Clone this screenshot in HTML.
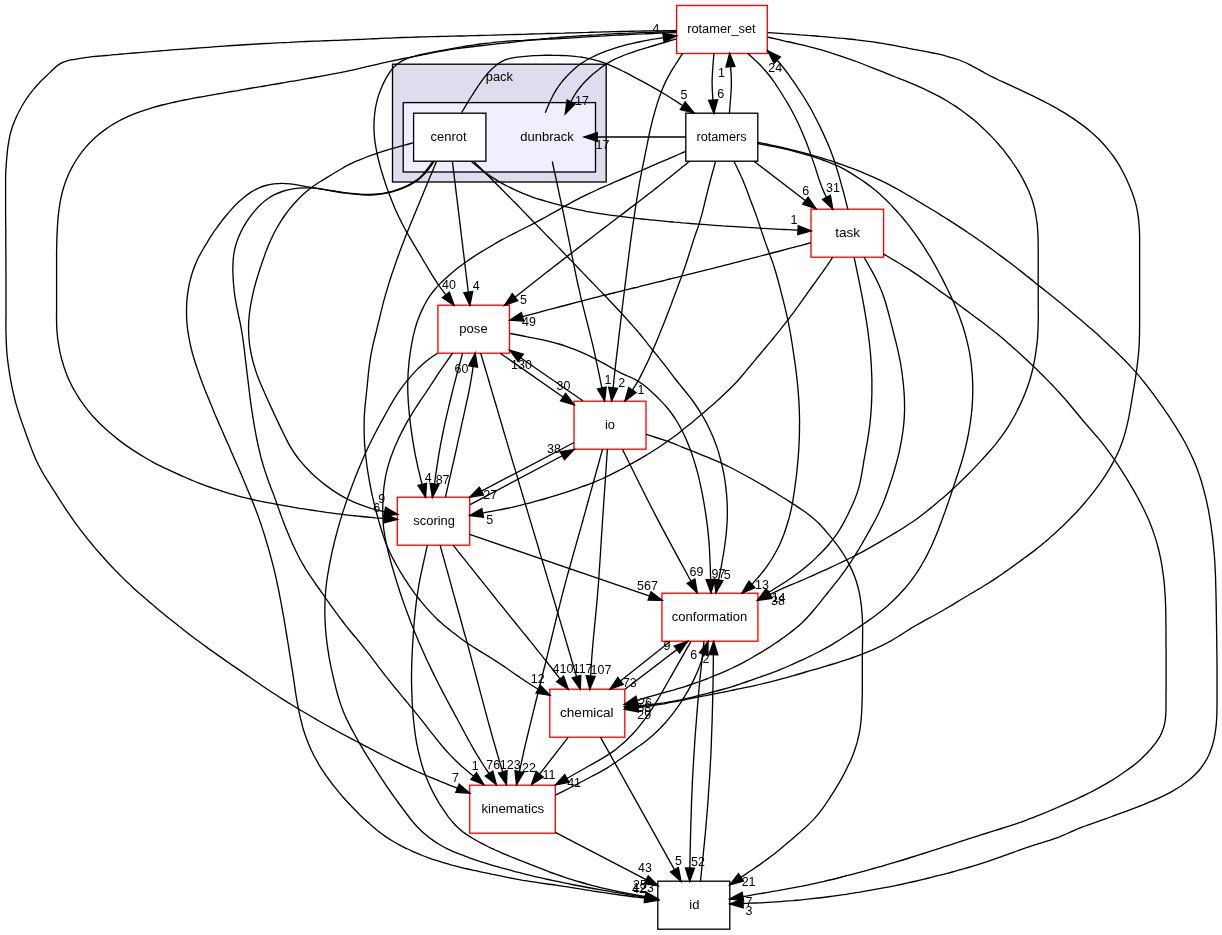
<!DOCTYPE html>
<html><head><meta charset="utf-8"><title>core/pack/dunbrack</title>
<style>html,body{margin:0;padding:0;background:#fff}svg{display:block;will-change:transform}text{font-family:"Liberation Sans",sans-serif;font-size:13.33px;fill:#000;text-anchor:middle}</style></head><body>
<svg width="1222" height="935" viewBox="0 0 1222 935">
<rect x="0" y="0" width="1222" height="935" fill="#fff"/>
<rect x="392.5" y="64.2" width="213.7" height="117.8" fill="#ddddee" stroke="#000" stroke-width="1.33"/>
<text transform="translate(499.3,81.1) scale(0.965,1)">pack</text>
<rect x="403.2" y="102.6" width="192.3" height="69.4" fill="#eeeeff" stroke="#000" stroke-width="1.33"/>
<text transform="translate(547.0,140.9) scale(0.975,1)">dunbrack</text>
<rect x="676.6" y="5.5" width="90.7" height="48.0" fill="#fff" stroke="#ff0000" stroke-width="1.33"/>
<text transform="translate(721.4,33.4) scale(0.965,1)">rotamer_set</text>
<rect x="413.6" y="113.2" width="72.3" height="48.0" fill="#fff" stroke="#000" stroke-width="1.33"/>
<text transform="translate(448.5,141.1) scale(0.972,1)">cenrot</text>
<rect x="685.8" y="113.2" width="72.0" height="48.0" fill="#fff" stroke="#000" stroke-width="1.33"/>
<text transform="translate(721.5,141.1) scale(0.955,1)">rotamers</text>
<rect x="811.0" y="209.2" width="72.6" height="48.0" fill="#fff" stroke="#ff0000" stroke-width="1.33"/>
<text transform="translate(847.6,237.1) scale(1.020,1)">task</text>
<rect x="437.9" y="305.2" width="71.6" height="48.0" fill="#fff" stroke="#ff0000" stroke-width="1.33"/>
<text transform="translate(473.5,333.1) scale(0.980,1)">pose</text>
<rect x="574.0" y="401.2" width="72.0" height="48.0" fill="#fff" stroke="#ff0000" stroke-width="1.33"/>
<text transform="translate(610.0,429.1) scale(0.970,1)">io</text>
<rect x="397.3" y="497.2" width="72.4" height="48.0" fill="#fff" stroke="#ff0000" stroke-width="1.33"/>
<text transform="translate(434.1,525.1) scale(0.970,1)">scoring</text>
<rect x="661.9" y="593.2" width="96.0" height="48.0" fill="#fff" stroke="#ff0000" stroke-width="1.33"/>
<text transform="translate(709.5,621.1) scale(0.978,1)">conformation</text>
<rect x="549.8" y="689.2" width="75.0" height="48.0" fill="#fff" stroke="#ff0000" stroke-width="1.33"/>
<text transform="translate(586.8,717.1) scale(1.020,1)">chemical</text>
<rect x="469.7" y="785.2" width="85.6" height="48.0" fill="#fff" stroke="#ff0000" stroke-width="1.33"/>
<text transform="translate(512.8,813.1) scale(0.998,1)">kinematics</text>
<rect x="657.8" y="881.2" width="72.0" height="48.0" fill="#fff" stroke="#000" stroke-width="1.33"/>
<text transform="translate(694.3,909.1) scale(0.980,1)">id</text>
<g fill="none" stroke="#000" stroke-width="1.33">
<path d="M676.5,30.5 C673.8,30.5 671.1,30.6 668.4,30.6 C665.7,30.7 663.1,30.7 660.4,30.8 C657.7,30.8 655.0,30.8 652.3,30.9 C649.6,30.9 646.9,31.0 644.2,31.0 C641.5,31.1 638.8,31.1 636.1,31.2 C633.4,31.2 630.8,31.3 628.1,31.3 C625.4,31.4 622.7,31.4 620.0,31.5 C617.3,31.6 614.7,31.6 612.0,31.7 C609.3,31.8 606.7,31.8 604.0,31.9 C601.3,32.0 598.7,32.1 596.0,32.1 C593.3,32.2 590.7,32.3 588.0,32.4 C585.3,32.4 582.7,32.5 580.0,32.6 C577.3,32.7 574.7,32.8 572.0,32.8 C569.3,32.9 566.7,33.0 564.0,33.1 C561.3,33.1 558.7,33.2 556.0,33.3 C553.3,33.4 550.6,33.5 547.9,33.5 C545.2,33.6 542.5,33.7 539.8,33.8 C537.1,33.9 534.4,33.9 531.7,34.0 C529.0,34.1 526.3,34.2 523.6,34.3 C520.9,34.3 518.2,34.4 515.5,34.5 C512.8,34.6 510.1,34.6 507.4,34.7 C504.7,34.8 502.0,34.9 499.3,34.9 C496.6,35.0 493.9,35.1 491.2,35.2 C488.5,35.2 485.8,35.3 483.1,35.4 C480.4,35.5 477.7,35.5 475.0,35.6 C472.3,35.7 469.6,35.7 466.9,35.8 C464.2,35.9 461.5,36.0 458.8,36.0 C456.1,36.1 453.4,36.1 450.7,36.2 C448.0,36.3 445.3,36.3 442.6,36.4 C439.9,36.5 437.2,36.5 434.5,36.6 C431.8,36.7 429.1,36.7 426.4,36.8 C423.6,36.9 420.9,36.9 418.2,37.0 C415.5,37.1 412.8,37.2 410.1,37.3 C407.4,37.3 404.7,37.4 402.0,37.5 C399.4,37.6 396.7,37.7 394.0,37.8 C391.3,38.0 388.7,38.1 386.0,38.2 C383.3,38.3 380.7,38.4 378.0,38.6 C375.3,38.7 372.7,38.8 370.0,38.9 C367.3,39.1 364.7,39.2 362.0,39.3 C359.3,39.4 356.7,39.6 354.0,39.7 C351.3,39.8 348.7,39.9 346.0,40.0 C343.3,40.1 340.7,40.2 338.0,40.3 C335.3,40.4 332.7,40.5 330.0,40.6 C327.3,40.7 324.7,40.8 322.0,40.9 C319.3,41.0 316.7,41.1 314.0,41.2 C311.3,41.3 308.6,41.4 306.0,41.5 C303.2,41.6 300.5,41.8 297.8,41.9 C295.0,42.0 292.3,42.1 289.6,42.3 C286.8,42.4 284.1,42.5 281.4,42.7 C278.6,42.8 275.9,43.0 273.2,43.1 C270.4,43.2 267.7,43.4 264.9,43.5 C262.2,43.7 259.5,43.8 256.7,44.0 C254.0,44.2 251.2,44.3 248.5,44.5 C245.8,44.7 243.0,44.8 240.3,45.0 C237.6,45.2 234.9,45.3 232.2,45.5 C229.5,45.7 226.8,45.9 224.1,46.1 C221.5,46.3 218.8,46.5 216.1,46.7 C213.4,46.9 210.7,47.1 208.0,47.3 C205.3,47.5 202.6,47.7 199.9,47.9 C197.2,48.1 194.5,48.3 191.8,48.5 C189.1,48.7 186.4,48.9 183.7,49.1 C180.9,49.3 178.1,49.5 175.4,49.7 C172.6,50.0 169.9,50.2 167.1,50.4 C164.3,50.6 161.6,50.8 158.8,51.0 C156.1,51.2 153.3,51.4 150.6,51.7 C147.8,51.9 145.0,52.1 142.3,52.3 C139.6,52.6 136.9,52.8 134.2,53.0 C131.5,53.2 128.8,53.4 126.1,53.7 C123.4,53.9 120.8,54.1 118.1,54.3 C115.4,54.6 112.7,54.8 110.1,55.1 C107.3,55.3 104.6,55.6 101.9,55.8 C98.8,56.1 95.7,56.4 92.6,56.7 C89.6,57.1 86.6,57.5 83.6,57.9 C80.7,58.3 77.9,58.8 75.1,59.3 C72.4,59.8 69.6,60.1 67.0,60.9 C64.5,61.7 61.8,62.7 59.5,64.1 C57.1,65.5 55.1,67.6 53.0,69.5 C50.8,71.5 48.8,73.7 46.6,75.7 C44.5,77.9 42.2,79.9 40.1,82.0 C38.2,84.0 36.3,86.1 34.5,88.2 C32.7,90.4 31.0,92.5 29.4,94.7 C27.8,96.9 26.2,99.2 24.7,101.5 C23.2,103.9 21.8,106.2 20.5,108.7 C19.1,111.2 17.8,113.7 16.7,116.2 C15.5,118.8 14.4,121.4 13.4,124.1 C12.4,126.7 11.5,129.3 10.8,132.0 C10.0,134.7 9.5,137.4 9.0,140.1 C8.5,142.8 8.1,145.6 7.7,148.4 C7.4,151.1 7.1,153.9 6.9,156.7 C6.6,159.5 6.3,162.3 6.2,165.0 C6.0,167.8 5.8,170.5 5.7,173.3 C5.6,176.0 5.6,178.8 5.6,181.5 C5.6,184.2 5.6,187.0 5.6,189.7 C5.6,192.5 5.6,195.2 5.6,197.9 C5.6,200.6 5.6,203.3 5.6,206.0 C5.6,208.7 5.6,211.3 5.6,214.0 C5.6,216.7 5.6,219.3 5.7,222.0 C5.7,224.7 5.7,227.3 5.8,230.0 C5.8,232.7 5.8,235.3 5.8,238.0 C5.8,240.7 5.8,243.3 5.8,246.0 C5.9,248.7 5.9,251.3 5.9,254.0 C5.9,256.7 5.9,259.4 5.9,262.1 C5.9,264.9 5.9,267.6 5.9,270.4 C6.0,273.2 6.0,276.0 6.0,278.8 C6.0,281.5 6.0,284.3 6.0,287.1 C6.0,289.9 6.0,292.6 6.0,295.4 C6.0,298.2 6.0,301.0 6.0,303.8 C6.0,306.5 6.0,309.3 6.0,312.0 C6.0,314.7 6.0,317.4 5.9,320.1 C5.9,322.8 5.9,325.5 5.9,328.1 C5.9,330.9 6.0,333.6 6.1,336.3 C6.1,339.1 6.2,341.8 6.4,344.6 C6.5,347.4 6.7,350.2 6.9,353.0 C7.2,355.8 7.4,358.6 7.8,361.3 C8.1,364.2 8.5,367.0 9.0,369.8 C9.4,372.6 9.8,375.3 10.3,378.1 C10.8,380.8 11.3,383.5 11.8,386.2 C12.4,388.9 12.9,391.5 13.6,394.2 C14.2,396.9 14.8,399.5 15.5,402.1 C16.2,404.7 17.0,407.3 17.8,409.9 C18.6,412.5 19.4,415.0 20.3,417.6 C21.1,420.2 22.0,422.7 22.9,425.3 C23.8,427.8 24.8,430.4 25.7,432.9 C26.6,435.5 27.5,438.1 28.5,440.6 C29.4,443.2 30.3,445.8 31.3,448.3 C32.3,450.8 33.3,453.4 34.4,455.9 C35.4,458.4 36.5,460.9 37.7,463.3 C38.9,465.8 40.2,468.3 41.6,470.7 C42.9,473.2 44.4,475.7 45.9,478.1 C47.4,480.5 49.0,482.9 50.5,485.3 C52.0,487.7 53.5,490.1 55.1,492.4 C56.5,494.7 58.0,497.0 59.4,499.3 C60.9,501.5 62.3,503.8 63.8,506.1 C65.2,508.3 66.7,510.5 68.2,512.7 C69.7,515.0 71.2,517.2 72.8,519.3 C74.3,521.5 75.9,523.7 77.5,525.9 C79.2,528.1 80.8,530.3 82.5,532.4 C84.1,534.6 85.8,536.7 87.5,538.9 C89.2,541.0 91.0,543.1 92.7,545.2 C94.4,547.2 96.1,549.3 97.9,551.3 C99.6,553.3 101.4,555.3 103.2,557.3 C105.0,559.3 106.8,561.3 108.6,563.2 C110.4,565.2 112.3,567.2 114.1,569.1 C116.0,571.1 118.0,573.0 119.9,575.0 C121.8,576.9 123.8,578.9 125.7,580.8 C127.7,582.7 129.7,584.5 131.7,586.4 C133.7,588.3 135.7,590.1 137.8,591.9 C139.8,593.7 141.9,595.5 144.0,597.3 C146.0,599.1 148.1,600.9 150.2,602.7 C152.2,604.4 154.3,606.2 156.4,607.9 C158.5,609.7 160.5,611.4 162.6,613.1 C164.7,614.8 166.8,616.5 168.9,618.2 C171.1,619.9 173.2,621.6 175.3,623.3 C177.5,625.1 179.7,626.8 181.9,628.5 C184.1,630.3 186.3,632.0 188.5,633.7 C190.7,635.4 193.0,637.1 195.2,638.8 C197.5,640.5 199.7,642.2 202.0,643.8 C204.2,645.4 206.4,647.0 208.6,648.6 C210.9,650.2 213.1,651.8 215.3,653.4 C217.6,655.0 219.8,656.6 222.0,658.1 C224.3,659.7 226.5,661.3 228.7,662.8 C230.9,664.3 233.2,665.9 235.4,667.4 C237.6,668.9 239.8,670.4 242.1,671.9 C244.3,673.4 246.5,675.0 248.8,676.5 C251.0,678.0 253.3,679.6 255.6,681.2 C258.0,682.8 260.3,684.4 262.6,686.0 C265.0,687.5 267.3,689.1 269.6,690.7 C272.0,692.2 274.3,693.8 276.7,695.3 C279.0,696.9 281.4,698.4 283.7,699.9 C286.1,701.4 288.4,702.8 290.8,704.3 C293.1,705.7 295.5,707.2 297.9,708.6 C300.3,710.0 302.6,711.4 305.0,712.8 C307.4,714.3 309.8,715.7 312.2,717.0 C314.6,718.4 317.0,719.8 319.4,721.2 C321.8,722.6 324.2,723.9 326.6,725.3 C329.0,726.7 331.5,728.0 333.9,729.3 C336.3,730.7 338.7,732.0 341.2,733.3 C343.6,734.6 346.0,735.9 348.4,737.2 C350.8,738.5 353.2,739.8 355.7,741.0 C358.1,742.3 360.5,743.5 362.9,744.8 C365.3,746.1 367.8,747.3 370.2,748.6 C372.6,749.8 375.0,751.0 377.4,752.3 C379.8,753.5 382.2,754.7 384.6,756.0 C387.0,757.2 389.4,758.4 391.8,759.7 C394.2,760.9 396.6,762.1 399.0,763.2 C401.5,764.4 403.9,765.6 406.4,766.7 C408.9,767.9 411.4,769.0 413.8,770.1 C416.3,771.2 418.8,772.3 421.3,773.4 C423.8,774.5 426.4,775.5 428.9,776.6 C431.4,777.6 433.9,778.7 436.4,779.7 C439.0,780.8 441.6,781.9 444.1,782.9 C446.8,784.0 449.4,785.0 452.0,786.1 C454.6,787.1 457.3,788.2 459.9,789.2 C462.5,790.3 465.2,791.3 467.8,792.3 C468.5,792.6 469.1,792.8 469.8,793.1"/>
<path d="M676.5,31.5 C673.8,31.6 671.1,31.7 668.4,31.8 C665.7,31.9 663.1,32.0 660.4,32.0 C657.7,32.1 655.0,32.2 652.3,32.3 C649.6,32.4 646.9,32.5 644.2,32.6 C641.5,32.7 638.8,32.7 636.1,32.8 C633.4,32.9 630.8,33.0 628.1,33.2 C625.4,33.3 622.7,33.4 620.0,33.5 C617.3,33.6 614.7,33.8 612.0,33.9 C609.3,34.0 606.7,34.2 604.0,34.3 C601.3,34.5 598.7,34.6 596.0,34.8 C593.3,34.9 590.7,35.1 588.0,35.3 C585.3,35.4 582.7,35.6 580.0,35.8 C577.3,36.0 574.7,36.2 572.0,36.4 C569.3,36.5 566.7,36.8 564.0,37.0 C561.3,37.2 558.6,37.4 556.0,37.6 C553.3,37.9 550.6,38.1 547.9,38.4 C545.2,38.6 542.4,38.9 539.7,39.2 C537.0,39.4 534.3,39.7 531.6,40.0 C528.9,40.3 526.2,40.6 523.5,40.9 C520.8,41.2 518.1,41.6 515.4,41.9 C512.6,42.2 509.9,42.5 507.2,42.8 C504.5,43.1 501.8,43.4 499.1,43.7 C496.3,44.0 493.5,44.3 490.8,44.6 C487.9,44.9 485.1,45.2 482.3,45.5 C479.4,45.9 476.6,46.2 473.7,46.5 C470.9,46.8 468.1,47.2 465.2,47.5 C462.4,47.9 459.6,48.3 456.8,48.7 C454.1,49.1 451.3,49.5 448.5,49.9 C445.7,50.4 443.0,50.9 440.2,51.3 C437.4,51.8 434.6,52.4 431.8,52.9 C429.0,53.5 426.3,54.0 423.5,54.6 C420.7,55.1 417.9,55.7 415.1,56.3 C412.3,56.8 409.6,57.4 406.8,57.9 C404.0,58.5 401.2,59.0 398.4,59.6 C395.6,60.2 392.9,60.8 390.1,61.4 C387.3,62.0 384.5,62.6 381.7,63.2 C379.0,63.9 376.2,64.5 373.4,65.2 C370.6,65.9 367.8,66.5 365.0,67.2 C362.3,67.9 359.5,68.5 356.7,69.1 C353.9,69.8 351.1,70.4 348.3,70.9 C345.6,71.5 342.9,72.0 340.1,72.6 C337.4,73.1 334.8,73.6 332.1,74.1 C329.4,74.6 326.8,75.1 324.1,75.6 C321.5,76.1 318.8,76.5 316.2,77.0 C313.5,77.5 310.9,78.0 308.3,78.4 C305.6,78.9 303.0,79.4 300.3,79.9 C297.7,80.3 295.0,80.8 292.4,81.2 C289.7,81.7 287.0,82.2 284.4,82.6 C281.7,83.1 279.0,83.5 276.4,84.0 C273.7,84.4 271.0,84.9 268.4,85.3 C265.7,85.8 263.0,86.2 260.3,86.7 C257.7,87.1 255.0,87.6 252.3,88.0 C249.7,88.5 247.0,89.0 244.3,89.4 C241.6,89.9 239.0,90.3 236.3,90.8 C233.6,91.2 230.9,91.7 228.3,92.1 C225.6,92.6 222.9,93.0 220.2,93.5 C217.6,93.9 214.9,94.4 212.2,94.8 C209.5,95.3 206.9,95.8 204.2,96.3 C201.5,96.7 198.9,97.2 196.2,97.7 C193.5,98.3 190.9,98.8 188.2,99.3 C185.6,99.8 182.9,100.4 180.2,100.9 C177.6,101.5 174.9,102.0 172.3,102.6 C169.7,103.2 167.0,103.8 164.4,104.5 C161.8,105.1 159.2,105.8 156.6,106.5 C154.0,107.3 151.4,108.0 148.9,108.9 C146.3,109.7 143.8,110.5 141.2,111.4 C138.7,112.3 136.2,113.2 133.7,114.2 C131.2,115.2 128.7,116.2 126.2,117.3 C123.7,118.5 121.3,119.7 118.8,121.0 C116.4,122.4 113.9,123.8 111.5,125.3 C109.1,126.8 106.7,128.4 104.4,130.1 C102.2,131.7 100.0,133.4 97.8,135.3 C95.8,137.0 93.8,138.9 91.9,140.8 C89.9,142.6 88.1,144.6 86.3,146.6 C84.6,148.7 82.9,150.7 81.2,152.9 C79.6,155.0 78.1,157.2 76.6,159.5 C75.2,161.7 73.8,164.0 72.5,166.3 C71.2,168.7 70.0,171.1 68.9,173.5 C67.8,175.9 66.8,178.4 65.8,180.9 C64.9,183.4 64.1,185.9 63.3,188.5 C62.5,191.1 61.9,193.7 61.3,196.3 C60.7,199.0 60.2,201.7 59.8,204.3 C59.3,207.1 59.0,209.8 58.6,212.6 C58.3,215.4 58.0,218.2 57.8,221.0 C57.6,223.9 57.4,226.8 57.3,229.6 C57.1,232.4 57.0,235.2 56.9,237.9 C56.8,240.6 56.8,243.3 56.7,246.0 C56.6,248.7 56.6,251.3 56.6,254.0 C56.6,256.7 56.6,259.3 56.6,262.0 C56.6,264.7 56.6,267.3 56.6,270.0 C56.6,272.7 56.6,275.3 56.6,278.0 C56.6,280.7 56.6,283.3 56.6,286.0 C56.6,288.7 56.6,291.3 56.6,294.0 C56.6,296.7 56.6,299.3 56.6,302.0 C56.6,304.7 56.6,307.4 56.6,310.1 C56.6,312.8 56.5,315.6 56.5,318.3 C56.6,321.0 56.6,323.8 56.7,326.5 C56.8,329.2 57.0,332.0 57.3,334.7 C57.5,337.4 57.9,340.1 58.3,342.7 C58.7,345.5 59.2,348.2 59.7,350.9 C60.3,353.6 60.9,356.3 61.6,359.0 C62.4,361.7 63.2,364.4 64.0,367.0 C64.9,369.7 65.9,372.3 66.9,374.9 C67.9,377.5 69.0,380.0 70.2,382.5 C71.4,385.0 72.6,387.4 74.0,389.8 C75.3,392.2 76.7,394.5 78.2,396.8 C79.6,399.1 81.2,401.4 82.8,403.6 C84.4,405.8 86.0,408.0 87.7,410.1 C89.5,412.3 91.3,414.4 93.1,416.5 C95.0,418.5 96.9,420.5 98.8,422.5 C100.8,424.5 102.8,426.4 104.9,428.3 C107.0,430.1 109.0,432.0 111.2,433.8 C113.3,435.6 115.4,437.4 117.6,439.1 C119.8,440.8 122.0,442.5 124.3,444.1 C126.5,445.7 128.8,447.3 131.1,448.9 C133.4,450.4 135.8,451.9 138.1,453.4 C140.5,454.9 142.8,456.3 145.2,457.7 C147.6,459.1 150.0,460.5 152.4,461.8 C154.8,463.1 157.3,464.4 159.7,465.6 C162.2,466.8 164.7,468.1 167.2,469.2 C169.7,470.4 172.2,471.6 174.7,472.7 C177.2,473.9 179.7,475.0 182.3,476.1 C184.8,477.2 187.4,478.3 189.9,479.4 C192.5,480.5 195.1,481.5 197.7,482.6 C200.3,483.6 202.9,484.6 205.5,485.6 C208.1,486.5 210.8,487.5 213.4,488.4 C216.0,489.3 218.6,490.1 221.2,490.9 C223.7,491.8 226.3,492.6 228.9,493.3 C231.5,494.1 234.1,494.8 236.7,495.6 C239.3,496.3 241.9,497.0 244.5,497.6 C247.2,498.3 249.9,498.9 252.6,499.5 C255.3,500.1 258.0,500.7 260.8,501.3 C263.6,501.8 266.3,502.4 269.1,502.9 C271.9,503.4 274.6,504.0 277.4,504.5 C280.2,505.0 282.9,505.5 285.7,505.9 C288.4,506.4 291.2,506.9 293.9,507.4 C296.6,507.8 299.4,508.3 302.1,508.7 C304.9,509.1 307.6,509.6 310.3,510.0 C313.0,510.4 315.7,510.8 318.4,511.2 C321.0,511.5 323.7,511.9 326.4,512.3 C329.0,512.6 331.7,513.0 334.3,513.3 C337.0,513.7 339.7,514.0 342.3,514.3 C345.0,514.7 347.7,515.0 350.4,515.3 C353.2,515.6 355.9,515.9 358.7,516.2 C361.5,516.5 364.2,516.8 367.0,517.0 C369.8,517.3 372.5,517.5 375.3,517.8 C378.0,518.0 380.7,518.2 383.4,518.4 C386.1,518.6 388.8,518.7 391.5,518.9 C393.5,519.0 395.5,519.2 397.5,519.3"/>
<path d="M676.5,32.5 C673.8,32.6 671.1,32.7 668.4,32.8 C665.7,32.9 663.1,33.1 660.4,33.2 C657.7,33.3 655.0,33.4 652.3,33.5 C649.6,33.6 646.9,33.7 644.2,33.9 C641.5,34.0 638.8,34.1 636.1,34.2 C633.4,34.3 630.8,34.5 628.1,34.6 C625.4,34.7 622.7,34.9 620.0,35.0 C617.4,35.1 614.7,35.3 612.0,35.4 C609.3,35.6 606.7,35.7 604.0,35.9 C601.3,36.0 598.7,36.2 596.0,36.3 C593.3,36.5 590.7,36.7 588.0,36.8 C585.3,37.0 582.7,37.2 580.0,37.3 C577.3,37.5 574.7,37.6 572.0,37.8 C569.3,38.0 566.7,38.1 564.0,38.3 C561.3,38.5 558.6,38.6 556.0,38.8 C553.3,38.9 550.6,39.1 547.9,39.2 C545.1,39.3 542.4,39.4 539.7,39.6 C537.0,39.7 534.3,39.8 531.6,39.9 C528.9,40.0 526.2,40.1 523.4,40.3 C520.7,40.4 518.0,40.5 515.3,40.7 C512.6,40.9 509.9,41.0 507.2,41.2 C504.5,41.4 501.8,41.7 499.1,41.9 C496.4,42.2 493.7,42.4 491.0,42.8 C488.4,43.1 485.7,43.4 483.0,43.7 C480.4,44.1 477.7,44.4 475.1,44.8 C472.4,45.2 469.8,45.6 467.1,46.0 C464.4,46.4 461.6,46.9 458.9,47.3 C456.1,47.8 453.4,48.3 450.6,48.8 C447.8,49.3 445.0,49.8 442.3,50.3 C439.5,50.8 436.7,51.4 433.9,51.9 C431.1,52.4 428.3,53.0 425.5,53.6 C422.8,54.2 419.9,54.7 417.2,55.4 C414.4,56.2 411.5,56.9 408.8,57.9 C406.0,59.0 403.3,60.1 400.8,61.6 C398.4,63.1 396.1,64.9 394.2,66.8 C392.2,68.7 390.6,71.0 389.0,73.3 C387.5,75.6 386.1,78.0 384.9,80.4 C383.6,82.9 382.4,85.4 381.4,87.9 C380.3,90.5 379.3,93.2 378.4,95.9 C377.5,98.7 376.8,101.5 376.2,104.4 C375.6,107.2 375.1,110.1 374.8,113.0 C374.4,115.8 374.2,118.7 374.1,121.6 C373.9,124.4 373.9,127.3 374.0,130.1 C374.1,132.9 374.3,135.8 374.6,138.6 C374.9,141.3 375.3,144.1 375.8,146.8 C376.2,149.6 376.8,152.3 377.3,155.0 C377.9,157.7 378.6,160.4 379.3,163.0 C379.9,165.7 380.7,168.3 381.5,171.0 C382.3,173.6 383.1,176.2 383.9,178.8 C384.8,181.4 385.6,184.0 386.5,186.6 C387.4,189.1 388.3,191.7 389.3,194.2 C390.2,196.7 391.2,199.2 392.2,201.7 C393.2,204.2 394.2,206.7 395.3,209.2 C396.4,211.6 397.5,214.1 398.6,216.5 C399.8,219.0 401.0,221.4 402.2,223.8 C403.4,226.2 404.7,228.5 406.0,230.9 C407.3,233.3 408.7,235.6 410.0,237.9 C411.4,240.3 412.8,242.6 414.1,244.9 C415.5,247.2 416.9,249.5 418.3,251.8 C419.7,254.1 421.1,256.4 422.4,258.8 C423.8,261.1 425.1,263.4 426.5,265.7 C427.9,268.0 429.2,270.3 430.6,272.6 C432.0,274.9 433.4,277.2 434.9,279.4 C436.3,281.7 437.8,283.9 439.3,286.1 C440.9,288.3 442.5,290.5 444.1,292.6 C445.7,294.8 447.4,296.9 449.1,299.0 C450.7,301.2 452.4,303.3 454.1,305.4"/>
<path d="M545.3,112.7 C546.4,110.1 547.4,107.4 548.5,104.9 C549.6,102.3 550.8,99.7 552.1,97.2 C553.4,94.6 554.8,92.1 556.3,89.7 C557.9,87.3 559.5,85.0 561.3,82.7 C563.0,80.5 564.8,78.4 566.8,76.3 C568.6,74.3 570.6,72.3 572.6,70.5 C574.6,68.7 576.6,66.9 578.8,65.3 C580.9,63.7 583.2,62.2 585.4,60.8 C587.7,59.4 590.1,58.2 592.5,57.0 C594.9,55.8 597.4,54.7 599.8,53.6 C602.3,52.6 604.8,51.6 607.3,50.7 C609.8,49.8 612.4,48.9 614.9,48.1 C617.5,47.3 620.1,46.6 622.7,45.9 C625.3,45.1 627.9,44.5 630.5,43.8 C633.3,43.2 636.0,42.6 638.7,42.0 C641.5,41.4 644.2,40.8 647.0,40.3 C649.8,39.8 652.6,39.3 655.4,38.9 C658.3,38.4 661.1,38.0 663.9,37.6 C666.8,37.1 669.6,36.8 672.4,36.4 C673.9,36.2 675.3,36.0 676.7,35.8"/>
<path d="M676.4,38.8 C673.7,39.6 671.0,40.5 668.3,41.3 C665.6,42.1 663.0,42.9 660.3,43.7 C657.7,44.5 655.1,45.3 652.4,46.0 C649.9,46.8 647.3,47.5 644.7,48.3 C642.1,49.1 639.5,49.9 637.0,50.7 C634.4,51.6 631.8,52.5 629.2,53.4 C626.6,54.3 624.0,55.2 621.4,56.3 C618.8,57.3 616.3,58.4 613.8,59.7 C611.3,61.0 608.9,62.4 606.5,63.9 C604.1,65.4 601.7,67.1 599.4,68.9 C597.2,70.6 595.0,72.4 592.8,74.2 C590.7,76.1 588.7,78.0 586.7,80.0 C584.8,81.9 582.9,83.9 581.2,86.0 C579.5,88.1 577.8,90.2 576.3,92.4 C574.8,94.6 573.5,96.9 572.2,99.3 C570.9,101.6 569.7,104.1 568.6,106.5 C567.4,109.0 566.3,111.4 565.2,113.9"/>
<path d="M686.0,137.0 L584.0,137.0"/>
<path d="M461.6,112.7 C463.0,110.4 464.4,108.0 465.8,105.7 C467.2,103.4 468.5,101.0 470.0,98.7 C471.4,96.4 472.9,94.1 474.3,91.8 C475.8,89.5 477.4,87.2 478.9,84.9 C480.5,82.6 482.1,80.3 483.8,78.1 C485.5,76.0 487.2,73.8 489.1,71.8 C491.0,69.8 492.9,67.9 495.0,66.2 C497.0,64.5 499.2,62.8 501.5,61.6 C503.8,60.3 506.3,59.3 508.9,58.6 C511.5,57.8 514.3,57.5 517.0,57.1 C519.8,56.7 522.6,56.5 525.3,56.3 C528.1,56.1 530.8,55.9 533.5,55.7 C536.2,55.5 539.0,55.4 541.7,55.3 C544.4,55.3 547.1,55.2 549.9,55.2 C552.6,55.3 555.4,55.3 558.1,55.4 C560.9,55.5 563.6,55.5 566.4,55.7 C569.2,55.9 571.9,56.0 574.7,56.3 C577.5,56.6 580.2,57.0 583.0,57.4 C585.8,57.9 588.6,58.5 591.3,59.1 C594.1,59.8 596.9,60.5 599.6,61.4 C602.2,62.2 604.9,63.1 607.5,64.1 C610.0,65.1 612.6,66.2 615.0,67.4 C617.5,68.5 620.0,69.7 622.4,71.0 C624.8,72.2 627.2,73.5 629.7,74.7 C632.1,76.0 634.5,77.3 636.9,78.6 C639.3,79.8 641.7,81.1 644.1,82.4 C646.5,83.7 648.9,85.0 651.3,86.4 C653.7,87.7 656.0,89.0 658.4,90.4 C660.7,91.7 663.0,93.1 665.3,94.5 C667.6,95.9 669.9,97.3 672.1,98.7 C674.4,100.2 676.6,101.6 678.9,103.1 C681.1,104.5 683.3,106.0 685.6,107.4 C687.8,108.9 690.1,110.4 692.3,111.8 C692.9,112.2 693.4,112.5 694.0,112.9"/>
<path d="M713.9,53.3 C713.3,63.1 712.1,72.8 712.1,82.6 C712.1,92.9 713.3,103.1 713.9,113.4"/>
<path d="M729.4,113.2 C730.1,103.0 731.4,92.8 731.4,82.6 C731.4,72.8 730.2,63.1 729.6,53.3"/>
<path d="M747.7,53.3 C749.7,55.1 751.6,56.9 753.6,58.8 C755.5,60.6 757.5,62.4 759.4,64.3 C761.3,66.2 763.1,68.2 764.9,70.2 C766.7,72.2 768.4,74.3 770.1,76.5 C771.7,78.6 773.3,80.9 774.9,83.1 C776.4,85.4 777.9,87.7 779.4,90.0 C780.9,92.3 782.4,94.6 783.8,97.0 C785.3,99.3 786.7,101.7 788.1,104.1 C789.5,106.5 790.8,108.9 792.1,111.3 C793.4,113.8 794.7,116.2 796.0,118.7 C797.2,121.2 798.4,123.7 799.5,126.2 C800.7,128.8 801.8,131.3 802.9,133.9 C803.9,136.4 805.0,139.0 806.0,141.6 C807.0,144.2 808.0,146.7 808.9,149.3 C809.9,151.9 810.8,154.5 811.7,157.1 C812.6,159.7 813.5,162.3 814.4,164.9 C815.3,167.5 816.1,170.1 816.9,172.7 C817.8,175.3 818.5,177.9 819.4,180.5 C820.3,183.0 821.2,185.6 822.2,188.1 C823.2,190.7 824.4,193.3 825.6,195.8 C826.9,198.4 828.3,200.9 829.6,203.4 C830.7,205.3 831.7,207.2 832.8,209.1"/>
<path d="M847.8,209.1 C847.1,206.3 846.4,203.6 845.7,200.8 C845.0,198.1 844.3,195.3 843.6,192.6 C842.8,189.8 842.1,187.1 841.3,184.4 C840.6,181.7 839.9,179.1 839.1,176.4 C838.3,173.8 837.6,171.2 836.8,168.7 C836.0,166.1 835.2,163.6 834.4,161.0 C833.5,158.5 832.6,156.0 831.7,153.4 C830.7,150.9 829.7,148.3 828.7,145.8 C827.6,143.2 826.5,140.7 825.3,138.1 C824.2,135.6 823.1,133.1 821.9,130.6 C820.7,128.1 819.5,125.7 818.3,123.2 C817.1,120.8 815.9,118.4 814.6,116.0 C813.4,113.6 812.1,111.2 810.8,108.8 C809.5,106.5 808.1,104.2 806.7,101.9 C805.4,99.5 804.0,97.3 802.5,95.0 C801.1,92.7 799.6,90.5 798.1,88.3 C796.6,86.0 795.1,83.8 793.6,81.6 C792.0,79.4 790.5,77.2 788.9,75.0 C787.3,72.8 785.7,70.6 784.0,68.5 C782.3,66.3 780.5,64.1 778.7,62.0 C776.7,59.8 774.6,57.7 772.5,55.6 C770.9,54.0 769.2,52.4 767.6,50.8"/>
<path d="M753.9,161.2 L816.0,208.8"/>
<path d="M471.4,161.5 C473.7,163.4 475.9,165.4 478.3,167.2 C480.5,169.0 482.8,170.8 485.2,172.6 C487.5,174.2 489.8,175.9 492.2,177.4 C494.6,179.0 497.0,180.4 499.5,181.9 C501.9,183.3 504.4,184.7 506.9,186.0 C509.4,187.3 511.9,188.5 514.5,189.7 C517.0,190.9 519.6,192.0 522.2,193.1 C524.8,194.2 527.4,195.2 530.0,196.1 C532.5,197.1 535.1,198.0 537.7,198.8 C540.3,199.6 542.8,200.4 545.4,201.1 C548.0,201.9 550.6,202.6 553.3,203.3 C556.0,204.0 558.7,204.8 561.4,205.5 C564.2,206.2 566.9,206.9 569.7,207.6 C572.5,208.3 575.2,208.9 578.0,209.6 C580.7,210.2 583.4,210.7 586.1,211.3 C588.8,211.8 591.5,212.2 594.1,212.7 C596.8,213.1 599.5,213.6 602.1,213.9 C604.8,214.3 607.5,214.7 610.1,215.1 C612.8,215.4 615.5,215.8 618.2,216.1 C620.8,216.4 623.5,216.8 626.2,217.1 C628.9,217.4 631.5,217.8 634.2,218.1 C636.9,218.4 639.5,218.7 642.2,219.0 C644.9,219.3 647.5,219.5 650.2,219.8 C652.9,220.1 655.5,220.3 658.2,220.6 C660.9,220.9 663.6,221.1 666.3,221.3 C668.9,221.6 671.6,221.8 674.3,222.1 C677.0,222.3 679.6,222.5 682.3,222.8 C685.0,223.0 687.6,223.2 690.3,223.5 C693.0,223.7 695.7,223.9 698.3,224.1 C701.0,224.3 703.7,224.5 706.4,224.7 C709.0,224.9 711.7,225.1 714.4,225.3 C717.0,225.5 719.7,225.7 722.4,225.9 C725.1,226.0 727.8,226.2 730.5,226.4 C733.2,226.6 735.9,226.8 738.6,226.9 C741.4,227.1 744.1,227.3 746.9,227.4 C749.6,227.6 752.4,227.8 755.1,227.9 C757.9,228.1 760.6,228.2 763.4,228.4 C766.1,228.6 768.8,228.7 771.6,228.9 C774.3,229.0 777.1,229.1 779.8,229.3 C782.6,229.4 785.4,229.6 788.1,229.7 C790.9,229.8 793.7,230.0 796.5,230.1 C799.4,230.2 802.2,230.4 805.0,230.5 C807.1,230.6 809.2,230.7 811.3,230.8"/>
<path d="M682.6,53.3 C681.2,55.6 679.7,57.9 678.3,60.1 C676.9,62.4 675.4,64.6 674.0,66.9 C672.6,69.2 671.1,71.5 669.8,73.8 C668.5,76.1 667.2,78.5 666.0,80.9 C664.8,83.4 663.7,85.9 662.6,88.4 C661.6,91.0 660.6,93.6 659.7,96.2 C658.7,98.8 657.9,101.5 657.1,104.1 C656.2,106.8 655.5,109.5 654.7,112.2 C654.0,114.8 653.2,117.5 652.5,120.2 C651.8,123.0 651.2,125.7 650.5,128.4 C649.9,131.1 649.3,133.9 648.7,136.6 C648.2,139.4 647.6,142.2 647.1,144.9 C646.5,147.7 646.0,150.5 645.4,153.2 C644.8,156.0 644.3,158.8 643.7,161.5 C643.1,164.3 642.6,167.1 642.0,169.9 C641.5,172.6 640.9,175.4 640.4,178.2 C639.9,180.9 639.4,183.6 638.9,186.4 C638.5,189.1 638.0,191.8 637.6,194.5 C637.1,197.2 636.7,199.9 636.3,202.6 C635.9,205.3 635.4,208.0 635.0,210.8 C634.6,213.5 634.2,216.2 633.8,218.9 C633.4,221.6 633.0,224.3 632.6,227.0 C632.2,229.6 631.9,232.3 631.5,234.9 C631.1,237.6 630.8,240.2 630.4,242.9 C630.1,245.5 629.7,248.2 629.4,250.8 C629.0,253.5 628.7,256.1 628.4,258.8 C628.0,261.4 627.7,264.1 627.4,266.7 C627.0,269.4 626.7,272.0 626.4,274.7 C626.1,277.3 625.7,280.0 625.4,282.6 C625.1,285.3 624.7,288.0 624.4,290.7 C624.1,293.4 623.7,296.1 623.4,298.8 C623.1,301.5 622.8,304.1 622.4,306.8 C622.1,309.5 621.8,312.2 621.5,314.9 C621.1,317.6 620.8,320.3 620.5,323.0 C620.2,325.7 619.9,328.4 619.5,331.1 C619.2,333.7 618.9,336.4 618.6,339.1 C618.3,341.8 618.0,344.5 617.7,347.2 C617.4,349.8 617.0,352.5 616.7,355.2 C616.4,357.8 616.1,360.5 615.8,363.1 C615.5,365.8 615.2,368.4 614.9,371.1 C614.6,373.8 614.3,376.4 614.0,379.1 C613.8,381.7 613.5,384.4 613.2,387.0 C612.9,389.7 612.6,392.4 612.3,395.0 C612.0,397.0 611.8,399.0 611.6,401.0"/>
<path d="M552.3,161.5 C552.9,164.2 553.5,166.9 554.0,169.6 C554.6,172.3 555.2,174.9 555.8,177.6 C556.4,180.3 556.9,183.0 557.5,185.7 C558.1,188.4 558.7,191.1 559.2,193.8 C559.8,196.5 560.4,199.2 561.0,201.8 C561.5,204.5 562.1,207.2 562.7,209.9 C563.2,212.6 563.8,215.3 564.4,218.0 C564.9,220.6 565.5,223.3 566.0,225.9 C566.6,228.6 567.1,231.2 567.6,233.8 C568.2,236.5 568.7,239.1 569.2,241.7 C569.8,244.4 570.3,247.0 570.8,249.7 C571.3,252.3 571.8,254.9 572.4,257.6 C572.9,260.2 573.4,262.9 574.0,265.5 C574.5,268.1 575.0,270.8 575.6,273.4 C576.1,276.0 576.7,278.7 577.2,281.3 C577.8,283.9 578.4,286.6 579.0,289.2 C579.6,291.9 580.2,294.5 580.8,297.1 C581.4,299.8 582.1,302.5 582.7,305.1 C583.4,307.8 584.1,310.5 584.8,313.2 C585.4,315.8 586.1,318.5 586.8,321.1 C587.5,323.8 588.2,326.5 588.9,329.1 C589.5,331.8 590.2,334.5 590.8,337.2 C591.5,339.8 592.1,342.5 592.8,345.2 C593.4,347.8 594.0,350.5 594.6,353.1 C595.2,355.8 595.8,358.4 596.3,361.1 C596.9,363.8 597.5,366.4 598.0,369.1 C598.6,371.7 599.1,374.4 599.7,377.1 C600.2,379.7 600.8,382.4 601.3,385.0 C601.9,387.7 602.4,390.4 602.9,393.0 C603.5,395.7 604.0,398.3 604.6,401.0"/>
<path d="M715.6,161.3 C714.8,164.1 714.1,166.8 713.3,169.6 C712.5,172.3 711.8,175.1 711.0,177.9 C710.3,180.6 709.6,183.3 708.9,186.0 C708.2,188.7 707.5,191.4 706.9,194.1 C706.2,196.7 705.6,199.4 704.9,202.1 C704.3,204.8 703.6,207.5 703.0,210.1 C702.3,212.8 701.6,215.5 700.8,218.1 C700.1,220.8 699.2,223.4 698.4,226.1 C697.5,228.7 696.5,231.4 695.6,234.0 C694.7,236.7 693.8,239.3 692.9,242.0 C692.1,244.6 691.3,247.2 690.5,249.9 C689.6,252.5 688.8,255.1 688.0,257.8 C687.2,260.4 686.3,263.0 685.4,265.6 C684.5,268.2 683.6,270.8 682.7,273.4 C681.7,276.0 680.8,278.6 679.8,281.2 C678.9,283.8 677.9,286.3 677.0,288.9 C676.0,291.4 675.1,294.0 674.1,296.5 C673.2,299.1 672.2,301.6 671.3,304.2 C670.3,306.7 669.3,309.3 668.4,311.8 C667.4,314.4 666.4,317.0 665.4,319.5 C664.4,322.1 663.3,324.7 662.3,327.2 C661.3,329.8 660.2,332.3 659.2,334.9 C658.1,337.5 657.0,340.1 656.0,342.7 C654.9,345.3 653.8,347.9 652.7,350.5 C651.6,353.0 650.4,355.6 649.3,358.2 C648.2,360.7 647.0,363.2 645.8,365.6 C644.7,368.1 643.6,370.5 642.3,372.9 C641.1,375.3 639.9,377.7 638.6,380.1 C637.2,382.5 635.8,384.8 634.3,387.1 C632.8,389.5 631.3,391.8 629.7,394.1 C628.1,396.4 626.5,398.7 624.9,401.0"/>
<path d="M689.5,161.3 C687.3,163.1 685.1,164.8 683.0,166.6 C680.8,168.4 678.6,170.1 676.4,171.9 C674.2,173.7 672.1,175.4 669.9,177.2 C667.7,179.0 665.5,180.7 663.3,182.5 C661.1,184.2 659.0,185.9 656.8,187.6 C654.6,189.3 652.5,191.0 650.3,192.7 C648.2,194.4 646.0,196.0 643.8,197.7 C641.7,199.3 639.5,201.0 637.3,202.7 C635.2,204.3 633.0,206.0 630.8,207.6 C628.6,209.3 626.5,210.9 624.3,212.6 C622.1,214.2 619.9,215.9 617.8,217.5 C615.6,219.2 613.5,220.8 611.3,222.5 C609.2,224.1 607.0,225.7 604.9,227.4 C602.7,229.0 600.6,230.7 598.5,232.3 C596.3,233.9 594.2,235.6 592.1,237.2 C589.9,238.9 587.8,240.5 585.7,242.1 C583.5,243.8 581.4,245.4 579.3,247.1 C577.1,248.7 575.0,250.4 572.9,252.0 C570.7,253.6 568.6,255.3 566.5,256.9 C564.4,258.6 562.2,260.2 560.1,261.9 C558.0,263.5 555.8,265.2 553.7,266.8 C551.6,268.5 549.5,270.1 547.3,271.8 C545.2,273.4 543.1,275.1 541.0,276.8 C538.9,278.4 536.7,280.1 534.6,281.7 C532.5,283.4 530.4,285.0 528.3,286.7 C526.2,288.4 524.0,290.0 521.9,291.7 C519.8,293.4 517.7,295.0 515.6,296.7 C513.5,298.3 511.4,300.0 509.3,301.7 C507.7,302.9 506.1,304.2 504.5,305.4"/>
<path d="M811.0,242.7 C808.4,243.4 805.8,244.1 803.2,244.8 C800.6,245.5 798.0,246.1 795.4,246.8 C792.8,247.5 790.2,248.2 787.6,248.9 C785.1,249.6 782.5,250.3 779.9,251.0 C777.3,251.7 774.7,252.3 772.1,253.0 C769.5,253.7 766.9,254.4 764.3,255.1 C761.7,255.8 759.1,256.5 756.5,257.1 C753.9,257.8 751.3,258.5 748.7,259.2 C746.1,259.8 743.5,260.5 740.9,261.2 C738.3,261.9 735.7,262.5 733.1,263.2 C730.5,263.9 727.9,264.5 725.2,265.2 C722.6,265.9 720.0,266.5 717.3,267.2 C714.7,267.9 712.1,268.5 709.4,269.2 C706.8,269.8 704.1,270.5 701.5,271.2 C698.9,271.8 696.2,272.5 693.6,273.1 C691.0,273.8 688.3,274.4 685.7,275.1 C683.0,275.7 680.4,276.4 677.8,277.1 C675.1,277.7 672.5,278.4 669.9,279.0 C667.2,279.7 664.6,280.3 662.0,281.0 C659.4,281.6 656.8,282.3 654.2,282.9 C651.6,283.6 649.0,284.2 646.4,284.9 C643.8,285.5 641.2,286.1 638.6,286.8 C636.0,287.4 633.4,288.1 630.8,288.7 C628.2,289.3 625.6,290.0 623.0,290.6 C620.4,291.3 617.8,291.9 615.3,292.5 C612.7,293.2 610.1,293.8 607.5,294.5 C604.9,295.1 602.3,295.8 599.7,296.4 C597.1,297.1 594.5,297.7 591.9,298.4 C589.3,299.1 586.8,299.7 584.2,300.4 C581.6,301.1 579.0,301.7 576.4,302.4 C573.7,303.1 571.1,303.8 568.5,304.5 C565.9,305.2 563.3,305.9 560.7,306.5 C558.0,307.2 555.4,307.9 552.8,308.6 C550.2,309.3 547.6,310.0 545.0,310.7 C542.3,311.4 539.7,312.1 537.1,312.8 C534.5,313.5 531.9,314.2 529.3,314.9 C526.7,315.6 524.1,316.3 521.5,317.0 C518.8,317.7 516.2,318.4 513.6,319.1 C512.3,319.5 511.0,319.8 509.7,320.2"/>
<path d="M452.4,161.3 L469.9,305.4"/>
<path d="M685.8,151.3 C683.3,152.4 680.9,153.4 678.4,154.5 C676.0,155.6 673.5,156.6 671.1,157.7 C668.6,158.8 666.1,159.8 663.7,160.9 C661.2,162.0 658.7,163.0 656.3,164.1 C653.8,165.2 651.3,166.2 648.9,167.3 C646.4,168.4 643.9,169.4 641.5,170.5 C639.0,171.6 636.5,172.6 634.1,173.7 C631.6,174.8 629.1,175.9 626.6,176.9 C624.2,178.0 621.7,179.1 619.2,180.2 C616.7,181.2 614.2,182.3 611.7,183.4 C609.2,184.5 606.7,185.5 604.2,186.6 C601.8,187.7 599.3,188.8 596.8,190.0 C594.3,191.1 591.9,192.2 589.4,193.4 C587.0,194.5 584.5,195.7 582.1,196.9 C579.7,198.2 577.2,199.4 574.8,200.7 C572.3,202.0 569.9,203.4 567.5,204.7 C565.1,206.0 562.6,207.4 560.2,208.8 C557.8,210.1 555.4,211.5 553.0,212.9 C550.6,214.2 548.2,215.6 545.7,217.0 C543.3,218.3 540.9,219.6 538.5,220.9 C536.0,222.2 533.6,223.5 531.1,224.8 C528.7,226.0 526.2,227.3 523.7,228.5 C521.3,229.8 518.8,231.0 516.3,232.3 C513.9,233.5 511.4,234.8 509.0,236.0 C506.5,237.3 504.1,238.6 501.7,239.9 C499.3,241.3 496.9,242.6 494.5,244.0 C492.1,245.4 489.8,246.8 487.4,248.2 C485.1,249.6 482.7,251.0 480.4,252.4 C478.0,253.9 475.7,255.4 473.4,256.9 C471.1,258.4 468.8,259.9 466.6,261.5 C464.3,263.0 462.1,264.7 460.0,266.3 C457.8,268.0 455.6,269.7 453.5,271.5 C451.4,273.3 449.3,275.1 447.2,276.9 C445.1,278.8 443.0,280.7 441.1,282.6 C439.1,284.6 437.2,286.6 435.4,288.7 C433.6,290.8 431.9,292.9 430.4,295.2 C428.8,297.4 427.4,299.7 426.1,302.0 C424.7,304.3 423.5,306.7 422.4,309.1 C421.2,311.6 420.1,314.0 419.2,316.5 C418.2,319.1 417.2,321.6 416.4,324.2 C415.6,326.8 414.8,329.5 414.2,332.2 C413.5,334.8 412.9,337.6 412.4,340.3 C411.8,343.0 411.4,345.8 410.9,348.5 C410.5,351.2 410.0,354.0 409.7,356.7 C409.3,359.5 409.0,362.2 408.8,365.0 C408.5,367.8 408.3,370.5 408.1,373.3 C408.0,376.1 407.9,378.9 407.8,381.7 C407.7,384.4 407.7,387.2 407.8,390.0 C407.8,392.8 407.9,395.6 408.1,398.3 C408.2,401.1 408.4,403.9 408.7,406.7 C408.9,409.4 409.2,412.2 409.4,414.9 C409.7,417.6 410.0,420.3 410.3,423.0 C410.6,425.7 411.0,428.4 411.4,431.1 C411.7,433.8 412.1,436.4 412.6,439.1 C413.0,441.8 413.4,444.6 413.9,447.3 C414.4,450.0 414.9,452.8 415.4,455.5 C416.0,458.3 416.6,461.1 417.2,463.8 C417.7,466.5 418.3,469.3 419.0,471.9 C419.6,474.6 420.3,477.2 420.9,479.8 C421.6,482.4 422.3,485.0 423.0,487.6 C423.7,490.2 424.4,492.8 425.1,495.4 C425.3,496.0 425.4,496.7 425.6,497.3"/>
<path d="M462.6,353.2 C461.9,355.8 461.2,358.4 460.5,361.0 C459.8,363.5 459.1,366.1 458.4,368.7 C457.7,371.3 457.0,373.9 456.3,376.4 C455.7,379.0 455.0,381.6 454.3,384.2 C453.6,386.8 453.0,389.4 452.3,392.0 C451.7,394.7 451.0,397.3 450.4,400.0 C449.7,402.6 449.1,405.3 448.5,407.9 C447.8,410.6 447.2,413.3 446.6,415.9 C446.0,418.6 445.4,421.3 444.8,423.9 C444.2,426.6 443.6,429.3 443.1,432.0 C442.5,434.6 442.0,437.3 441.5,439.9 C440.9,442.6 440.4,445.2 440.0,447.9 C439.5,450.5 439.1,453.1 438.6,455.8 C438.2,458.4 437.8,461.0 437.4,463.7 C437.0,466.3 436.6,468.9 436.2,471.6 C435.8,474.2 435.4,476.9 435.1,479.5 C434.7,482.1 434.3,484.8 433.9,487.4 C433.5,490.0 433.1,492.7 432.7,495.3 C432.6,496.0 432.5,496.6 432.4,497.3"/>
<path d="M445.4,497.3 C446.0,494.7 446.6,492.0 447.2,489.4 C447.8,486.8 448.4,484.1 449.0,481.5 C449.6,478.9 450.2,476.3 450.8,473.6 C451.4,471.0 452.0,468.4 452.6,465.7 C453.2,463.1 453.8,460.5 454.4,457.8 C455.0,455.2 455.6,452.5 456.2,449.9 C456.8,447.2 457.4,444.5 457.9,441.9 C458.5,439.2 459.1,436.5 459.7,433.9 C460.3,431.2 460.9,428.5 461.4,425.8 C462.0,423.2 462.6,420.5 463.2,417.8 C463.8,415.2 464.4,412.5 465.0,409.8 C465.5,407.2 466.1,404.5 466.7,401.9 C467.3,399.2 467.9,396.6 468.4,394.0 C469.0,391.3 469.5,388.6 470.0,385.9 C470.5,383.2 471.0,380.5 471.4,377.8 C471.9,375.0 472.3,372.3 472.7,369.6 C473.1,366.9 473.5,364.1 473.9,361.4 C474.4,358.7 474.8,355.9 475.2,353.2"/>
<path d="M500.2,353.2 L574.1,404.8"/>
<path d="M582.8,400.8 L509.7,350.2"/>
<path d="M574.1,442.5 L469.6,497.3"/>
<path d="M470.1,504.6 L574.1,449.5"/>
<path d="M832.8,257.2 C831.1,259.6 829.5,262.1 827.8,264.5 C826.2,266.9 824.5,269.2 822.9,271.6 C821.3,273.8 819.6,276.1 818.0,278.3 C816.4,280.6 814.8,282.8 813.2,285.0 C811.6,287.3 810.0,289.5 808.4,291.7 C806.8,294.0 805.3,296.2 803.7,298.4 C802.1,300.7 800.5,302.9 798.9,305.1 C797.3,307.4 795.6,309.6 794.0,311.8 C792.3,314.0 790.7,316.3 789.0,318.5 C787.3,320.7 785.5,323.0 783.8,325.2 C782.1,327.4 780.4,329.5 778.7,331.7 C777.0,333.8 775.2,335.9 773.5,338.0 C771.8,340.1 770.1,342.1 768.4,344.2 C766.7,346.3 764.9,348.3 763.2,350.4 C761.5,352.4 759.8,354.5 758.0,356.5 C756.3,358.6 754.6,360.6 752.9,362.7 C751.2,364.7 749.4,366.8 747.7,368.9 C746.0,371.0 744.3,373.1 742.5,375.2 C740.7,377.3 738.9,379.4 737.1,381.5 C735.2,383.5 733.2,385.5 731.2,387.5 C729.3,389.5 727.3,391.4 725.2,393.3 C723.2,395.2 721.2,397.1 719.2,398.9 C717.2,400.8 715.1,402.6 713.1,404.4 C711.0,406.2 708.9,408.1 706.7,409.9 C704.6,411.8 702.4,413.7 700.2,415.6 C698.0,417.4 695.7,419.3 693.5,421.2 C691.3,423.0 689.1,424.8 686.8,426.6 C684.6,428.4 682.4,430.2 680.2,431.9 C678.0,433.7 675.7,435.4 673.5,437.0 C671.3,438.7 669.1,440.3 666.8,441.8 C664.6,443.4 662.3,445.0 660.0,446.5 C657.7,448.0 655.4,449.5 653.0,451.0 C650.7,452.5 648.3,454.0 645.9,455.4 C643.6,456.8 641.2,458.2 638.8,459.6 C636.4,461.0 633.9,462.3 631.5,463.7 C629.1,465.0 626.6,466.4 624.2,467.8 C621.7,469.1 619.2,470.4 616.7,471.7 C614.3,473.0 611.8,474.2 609.3,475.4 C606.8,476.6 604.3,477.8 601.7,479.0 C599.0,480.1 596.3,481.2 593.6,482.3 C590.9,483.4 588.2,484.5 585.4,485.5 C582.7,486.5 580.0,487.4 577.4,488.4 C574.7,489.3 572.1,490.2 569.5,491.1 C566.8,492.0 564.2,492.9 561.5,493.7 C558.9,494.6 556.3,495.4 553.6,496.2 C551.0,497.0 548.3,497.8 545.7,498.5 C543.0,499.3 540.4,500.0 537.8,500.7 C535.2,501.5 532.5,502.2 529.9,502.9 C527.3,503.6 524.6,504.2 522.0,504.9 C519.4,505.5 516.7,506.2 514.1,506.8 C511.4,507.4 508.7,508.0 506.1,508.5 C503.4,509.1 500.7,509.7 498.0,510.2 C495.3,510.7 492.6,511.2 489.9,511.7 C487.2,512.2 484.5,512.7 481.8,513.2 C479.1,513.7 476.4,514.2 473.7,514.7 C472.3,515.0 471.0,515.2 469.6,515.5"/>
<path d="M413.6,142.6 C410.9,143.4 408.2,144.1 405.5,144.9 C402.8,145.6 400.1,146.3 397.4,147.1 C394.7,147.8 392.0,148.6 389.3,149.4 C386.6,150.2 383.9,151.0 381.3,151.9 C378.6,152.7 376.0,153.6 373.3,154.6 C370.7,155.5 368.0,156.5 365.4,157.5 C362.8,158.6 360.1,159.6 357.5,160.7 C354.9,161.8 352.4,163.0 349.8,164.2 C347.3,165.5 344.8,166.8 342.4,168.2 C339.9,169.6 337.6,171.0 335.2,172.5 C332.8,174.0 330.4,175.5 328.0,176.9 C325.6,178.4 323.2,179.8 320.9,181.3 C318.5,182.7 316.2,184.2 313.9,185.7 C311.7,187.3 309.5,188.9 307.4,190.7 C305.3,192.4 303.3,194.2 301.4,196.0 C299.4,197.9 297.6,199.8 295.8,201.8 C293.9,203.8 292.2,205.8 290.4,207.9 C288.7,210.1 287.0,212.3 285.4,214.5 C283.8,216.7 282.3,219.0 280.8,221.4 C279.3,223.7 277.9,226.1 276.5,228.5 C275.2,230.9 274.0,233.3 272.8,235.7 C271.6,238.2 270.5,240.6 269.4,243.1 C268.3,245.6 267.4,248.1 266.4,250.6 C265.4,253.1 264.5,255.7 263.6,258.2 C262.7,260.7 261.8,263.3 261.0,265.8 C260.1,268.4 259.3,271.0 258.5,273.5 C257.6,276.1 256.9,278.7 256.1,281.3 C255.4,283.9 254.7,286.5 254.0,289.1 C253.4,291.8 252.8,294.5 252.2,297.1 C251.6,299.9 251.1,302.6 250.6,305.4 C250.2,308.1 249.7,310.9 249.4,313.7 C249.1,316.5 248.9,319.2 248.7,322.0 C248.6,324.8 248.5,327.5 248.6,330.3 C248.6,333.0 248.8,335.7 249.0,338.5 C249.2,341.2 249.5,343.9 249.9,346.5 C250.3,349.2 250.8,351.9 251.3,354.5 C251.9,357.1 252.5,359.7 253.2,362.3 C253.9,364.9 254.7,367.5 255.5,370.1 C256.3,372.7 257.2,375.2 258.2,377.7 C259.2,380.3 260.2,382.8 261.3,385.3 C262.3,387.8 263.4,390.3 264.6,392.8 C265.7,395.3 266.8,397.8 267.9,400.3 C269.1,402.8 270.2,405.3 271.4,407.9 C272.5,410.4 273.7,412.9 274.9,415.5 C276.1,418.0 277.3,420.5 278.5,423.1 C279.7,425.6 280.9,428.2 282.1,430.7 C283.4,433.3 284.6,436.0 286.0,438.5 C287.3,441.1 288.6,443.8 290.1,446.3 C291.6,448.7 293.1,451.2 294.7,453.5 C296.3,455.9 298.0,458.2 299.8,460.4 C301.6,462.6 303.4,464.7 305.3,466.8 C307.2,468.8 309.1,470.8 311.1,472.7 C313.0,474.6 315.1,476.4 317.1,478.2 C319.2,480.0 321.3,481.7 323.4,483.4 C325.6,485.1 327.8,486.8 330.0,488.4 C332.2,489.9 334.4,491.5 336.7,492.9 C339.0,494.4 341.4,495.8 343.8,497.1 C346.2,498.4 348.7,499.7 351.2,500.9 C353.8,502.1 356.4,503.2 359.0,504.2 C361.7,505.3 364.4,506.3 367.2,507.2 C369.9,508.1 372.6,508.9 375.4,509.7 C378.1,510.4 380.8,511.0 383.5,511.6 C386.2,512.2 388.9,512.7 391.6,513.2 C393.6,513.6 395.7,514.0 397.7,514.4"/>
<path d="M432.9,161.3 C431.3,163.5 429.7,165.8 428.1,168.0 C426.4,170.2 424.8,172.4 422.9,174.4 C421.1,176.4 419.0,178.2 416.9,179.9 C414.7,181.6 412.3,183.0 409.8,184.3 C407.4,185.7 404.8,186.8 402.2,187.9 C399.7,188.9 397.1,189.9 394.5,190.7 C391.9,191.4 389.2,192.1 386.5,192.6 C383.9,193.2 381.1,193.6 378.4,193.9 C375.7,194.2 373.0,194.4 370.3,194.5 C367.6,194.6 364.9,194.5 362.2,194.4 C359.5,194.2 356.8,194.0 354.1,193.7 C351.4,193.4 348.7,193.1 346.1,192.8 C343.4,192.5 340.7,192.1 338.1,191.7 C335.4,191.3 332.8,190.9 330.2,190.5 C327.5,190.1 324.9,189.6 322.3,189.2 C319.6,188.8 317.0,188.3 314.3,187.9 C311.7,187.5 309.0,187.0 306.3,186.6 C303.6,186.1 300.9,185.6 298.2,185.1 C295.5,184.7 292.8,184.2 290.0,183.9 C287.4,183.6 284.6,183.4 281.9,183.4 C279.2,183.4 276.5,183.6 273.8,183.9 C271.1,184.3 268.4,184.8 265.8,185.5 C263.1,186.2 260.5,187.1 258.0,188.3 C255.4,189.4 253.0,190.9 250.6,192.4 C248.2,194.0 246.0,195.7 243.8,197.5 C241.6,199.3 239.5,201.2 237.5,203.1 C235.6,204.9 233.7,206.9 231.9,208.9 C230.1,210.8 228.3,212.9 226.6,215.0 C224.9,217.0 223.2,219.1 221.5,221.3 C219.9,223.5 218.2,225.7 216.7,227.9 C215.0,230.1 213.5,232.4 212.0,234.7 C210.4,237.1 208.9,239.4 207.5,241.8 C206.0,244.2 204.6,246.5 203.2,249.0 C201.8,251.4 200.4,253.8 199.1,256.3 C197.8,258.8 196.6,261.3 195.6,263.9 C194.5,266.3 193.6,268.9 192.7,271.5 C191.9,274.0 191.1,276.6 190.5,279.2 C189.8,281.8 189.2,284.4 188.7,287.1 C188.2,289.8 187.8,292.5 187.5,295.2 C187.1,298.0 186.9,300.7 186.7,303.5 C186.6,306.2 186.5,309.0 186.5,311.8 C186.5,314.5 186.6,317.3 186.7,320.1 C186.9,322.8 187.2,325.6 187.5,328.4 C187.9,331.2 188.3,334.0 188.8,336.8 C189.2,339.5 189.8,342.2 190.4,345.0 C191.0,347.6 191.6,350.2 192.3,352.8 C193.0,355.4 193.8,358.0 194.6,360.5 C195.4,363.1 196.2,365.6 197.1,368.1 C197.9,370.7 198.8,373.2 199.7,375.7 C200.6,378.2 201.5,380.8 202.4,383.3 C203.4,385.8 204.4,388.3 205.3,390.8 C206.3,393.3 207.4,395.8 208.4,398.3 C209.4,400.8 210.4,403.3 211.5,405.8 C212.5,408.3 213.6,410.9 214.6,413.4 C215.7,415.9 216.8,418.4 217.9,420.9 C218.9,423.5 220.0,426.0 221.2,428.5 C222.3,431.1 223.4,433.6 224.5,436.2 C225.6,438.7 226.7,441.2 227.9,443.8 C229.0,446.3 230.1,448.8 231.2,451.4 C232.3,453.9 233.4,456.4 234.5,458.9 C235.5,461.3 236.6,463.8 237.7,466.3 C238.7,468.7 239.8,471.2 240.9,473.6 C241.9,476.1 243.0,478.6 244.0,481.0 C245.1,483.5 246.1,486.0 247.1,488.5 C248.2,491.0 249.2,493.5 250.3,496.1 C251.3,498.6 252.4,501.2 253.4,503.7 C254.4,506.3 255.4,508.9 256.4,511.5 C257.4,514.1 258.4,516.7 259.3,519.4 C260.2,522.1 261.2,524.7 262.0,527.4 C262.9,530.1 263.8,532.8 264.6,535.5 C265.4,538.2 266.2,540.8 267.0,543.5 C267.8,546.1 268.6,548.7 269.3,551.4 C270.0,554.0 270.7,556.6 271.4,559.2 C272.1,561.9 272.8,564.5 273.5,567.2 C274.1,569.8 274.7,572.4 275.4,575.1 C276.0,577.7 276.6,580.3 277.1,583.0 C277.7,585.6 278.2,588.2 278.8,590.9 C279.3,593.5 279.8,596.1 280.3,598.8 C280.8,601.4 281.3,604.1 281.8,606.7 C282.3,609.4 282.8,612.0 283.2,614.7 C283.7,617.3 284.2,619.9 284.6,622.6 C285.1,625.2 285.5,627.8 285.9,630.5 C286.4,633.1 286.8,635.7 287.2,638.4 C287.6,641.0 288.1,643.6 288.5,646.3 C288.9,648.9 289.3,651.5 289.7,654.2 C290.2,656.8 290.6,659.5 291.0,662.1 C291.4,664.8 291.8,667.4 292.3,670.1 C292.7,672.7 293.1,675.4 293.5,678.1 C293.9,680.8 294.3,683.5 294.7,686.3 C295.1,689.0 295.5,691.8 295.9,694.6 C296.4,697.4 296.8,700.1 297.3,702.9 C297.8,705.6 298.3,708.3 298.9,711.1 C299.4,713.8 300.0,716.5 300.7,719.2 C301.3,721.8 302.0,724.5 302.7,727.2 C303.5,729.8 304.3,732.4 305.2,735.0 C306.1,737.6 307.0,740.1 308.0,742.6 C309.0,745.1 310.1,747.6 311.2,750.0 C312.4,752.5 313.5,754.9 314.8,757.3 C316.0,759.6 317.4,762.0 318.7,764.3 C320.1,766.6 321.6,768.9 323.1,771.2 C324.6,773.5 326.1,775.7 327.7,777.9 C329.3,780.1 331.0,782.3 332.6,784.5 C334.3,786.6 336.0,788.8 337.8,790.9 C339.5,793.0 341.3,795.1 343.1,797.2 C344.9,799.3 346.8,801.3 348.7,803.3 C350.5,805.4 352.4,807.4 354.4,809.3 C356.3,811.3 358.3,813.2 360.2,815.2 C362.2,817.1 364.2,819.0 366.2,820.8 C368.2,822.7 370.3,824.5 372.3,826.3 C374.4,828.1 376.5,829.9 378.7,831.5 C380.8,833.2 383.0,834.8 385.3,836.4 C387.5,837.9 389.8,839.4 392.1,840.8 C394.5,842.2 396.9,843.5 399.3,844.8 C401.6,846.1 404.1,847.3 406.5,848.5 C408.9,849.7 411.4,850.8 413.8,851.9 C416.3,853.0 418.8,854.0 421.2,855.0 C423.7,856.0 426.2,856.9 428.7,857.8 C431.2,858.7 433.8,859.6 436.3,860.4 C438.9,861.2 441.4,862.0 444.0,862.8 C446.6,863.6 449.1,864.3 451.7,865.1 C454.3,865.8 457.0,866.5 459.6,867.1 C462.2,867.8 464.8,868.4 467.5,869.0 C470.1,869.6 472.8,870.1 475.4,870.7 C478.1,871.3 480.7,871.8 483.4,872.4 C486.0,872.9 488.7,873.5 491.3,874.1 C493.9,874.6 496.6,875.2 499.2,875.7 C501.8,876.3 504.4,876.8 507.1,877.3 C509.7,877.8 512.3,878.3 515.0,878.8 C517.6,879.3 520.3,879.8 523.0,880.3 C525.7,880.7 528.4,881.2 531.1,881.6 C533.8,882.0 536.6,882.4 539.3,882.8 C542.1,883.2 544.8,883.6 547.5,884.0 C550.3,884.4 553.0,884.7 555.7,885.1 C558.5,885.5 561.2,885.9 563.9,886.3 C566.6,886.7 569.3,887.2 572.0,887.6 C574.7,888.0 577.3,888.4 580.0,888.9 C582.7,889.3 585.3,889.8 588.0,890.2 C590.7,890.6 593.3,891.1 596.0,891.5 C598.7,891.9 601.3,892.3 604.0,892.7 C606.7,893.1 609.4,893.5 612.0,893.8 C614.7,894.2 617.4,894.6 620.1,895.0 C622.8,895.3 625.4,895.7 628.1,896.0 C630.8,896.4 633.5,896.8 636.2,897.1 C638.8,897.5 641.5,897.8 644.2,898.2 C646.9,898.5 649.6,898.9 652.3,899.3 C654.3,899.5 656.3,899.8 658.3,900.1"/>
<path d="M434.2,161.3 C432.5,163.6 430.9,166.0 429.1,168.3 C427.4,170.5 425.7,172.8 423.7,174.9 C421.7,176.9 419.6,178.8 417.4,180.5 C415.1,182.1 412.7,183.6 410.2,184.9 C407.7,186.3 405.1,187.4 402.5,188.5 C399.9,189.5 397.3,190.4 394.6,191.2 C392.0,192.0 389.3,192.6 386.6,193.2 C383.9,193.7 381.2,194.1 378.5,194.4 C375.8,194.7 373.1,194.9 370.3,195.0 C367.6,195.1 364.9,195.0 362.2,194.9 C359.5,194.7 356.8,194.5 354.1,194.2 C351.4,193.9 348.7,193.6 346.1,193.2 C343.4,192.9 340.7,192.5 338.1,192.0 C335.4,191.6 332.8,191.0 330.2,190.6 C327.5,190.1 324.9,189.6 322.3,189.2 C319.6,188.8 317.0,188.4 314.4,188.2 C311.7,188.0 309.0,187.9 306.4,187.9 C303.7,187.9 301.0,188.0 298.4,188.2 C295.7,188.4 293.0,188.8 290.3,189.3 C287.6,189.9 284.8,190.6 282.2,191.5 C279.5,192.4 276.9,193.5 274.4,194.7 C271.9,196.0 269.6,197.4 267.4,199.0 C265.2,200.5 263.1,202.2 261.2,204.1 C259.2,205.9 257.4,207.9 255.6,209.9 C253.7,212.0 252.0,214.1 250.4,216.4 C248.7,218.6 247.1,221.0 245.6,223.4 C244.1,225.8 242.7,228.3 241.4,230.9 C240.2,233.4 239.0,236.0 238.0,238.6 C237.0,241.2 236.1,243.8 235.4,246.5 C234.6,249.3 234.1,252.1 233.7,255.0 C233.3,257.9 233.1,260.8 233.0,263.7 C232.8,266.6 232.8,269.5 232.9,272.3 C232.9,275.1 233.1,278.0 233.3,280.8 C233.5,283.6 233.7,286.5 234.0,289.3 C234.3,292.1 234.7,294.9 235.1,297.8 C235.6,300.5 236.0,303.2 236.6,306.0 C237.1,308.7 237.7,311.3 238.2,314.0 C238.8,316.7 239.4,319.3 240.0,322.0 C240.5,324.6 241.0,327.3 241.5,330.0 C242.0,332.6 242.4,335.3 242.8,338.0 C243.2,340.7 243.5,343.3 243.9,346.0 C244.2,348.7 244.5,351.4 244.8,354.0 C245.1,356.7 245.4,359.4 245.8,362.1 C246.1,364.8 246.4,367.5 246.7,370.1 C247.0,372.9 247.4,375.6 247.7,378.3 C248.0,381.0 248.4,383.7 248.7,386.5 C249.0,389.2 249.3,391.9 249.7,394.6 C250.0,397.3 250.4,400.1 250.7,402.8 C251.1,405.5 251.5,408.2 251.9,410.9 C252.3,413.6 252.7,416.3 253.2,419.0 C253.6,421.7 254.1,424.4 254.5,427.0 C255.0,429.7 255.5,432.4 256.0,435.0 C256.5,437.7 257.1,440.4 257.6,443.0 C258.2,445.7 258.8,448.4 259.4,451.0 C260.1,453.7 260.7,456.4 261.4,459.0 C262.1,461.6 262.9,464.3 263.7,466.9 C264.5,469.5 265.3,472.1 266.2,474.6 C267.1,477.2 268.0,479.8 268.9,482.3 C269.9,484.9 270.8,487.4 271.8,490.0 C272.8,492.5 273.7,495.0 274.7,497.6 C275.6,500.1 276.5,502.7 277.4,505.2 C278.3,507.7 279.2,510.3 280.1,512.8 C281.0,515.3 281.9,517.9 282.9,520.4 C283.8,522.9 284.8,525.4 285.8,527.9 C286.8,530.4 287.8,533.0 288.9,535.5 C290.0,538.0 291.1,540.6 292.2,543.1 C293.4,545.7 294.5,548.2 295.7,550.7 C297.0,553.2 298.2,555.7 299.5,558.2 C300.8,560.6 302.1,563.0 303.5,565.4 C304.9,567.7 306.3,570.1 307.8,572.4 C309.3,574.7 310.8,576.9 312.4,579.2 C313.9,581.5 315.5,583.7 317.1,586.0 C318.7,588.2 320.2,590.4 321.8,592.7 C323.4,594.9 325.0,597.1 326.5,599.3 C328.1,601.5 329.6,603.7 331.2,605.9 C332.7,608.0 334.3,610.2 335.9,612.4 C337.5,614.5 339.0,616.7 340.7,618.8 C342.3,620.9 343.9,623.1 345.5,625.2 C347.2,627.3 348.9,629.4 350.6,631.5 C352.3,633.6 354.0,635.6 355.8,637.7 C357.5,639.8 359.2,641.8 360.9,643.9 C362.6,646.1 364.3,648.2 366.0,650.3 C367.8,652.5 369.4,654.7 371.1,656.9 C372.8,659.2 374.5,661.4 376.2,663.7 C377.9,665.9 379.6,668.2 381.3,670.4 C382.9,672.6 384.6,674.7 386.3,676.9 C388.0,679.0 389.8,681.2 391.5,683.3 C393.2,685.5 394.9,687.6 396.7,689.7 C398.4,691.8 400.1,693.9 401.9,696.1 C403.6,698.2 405.4,700.3 407.1,702.4 C408.9,704.5 410.6,706.6 412.4,708.7 C414.1,710.9 415.8,713.0 417.6,715.1 C419.3,717.2 421.0,719.3 422.6,721.4 C424.3,723.5 426.0,725.7 427.6,727.8 C429.3,729.9 431.0,732.1 432.6,734.2 C434.3,736.3 436.0,738.5 437.7,740.6 C439.4,742.7 441.1,744.7 442.8,746.8 C444.6,748.9 446.3,750.9 448.2,752.9 C450.0,754.9 451.9,756.8 453.8,758.7 C455.7,760.7 457.7,762.6 459.8,764.4 C461.8,766.3 464.0,768.1 466.1,770.0 C468.2,771.8 470.4,773.5 472.5,775.3 C474.7,777.1 476.9,778.9 479.0,780.7 C480.7,782.0 482.3,783.4 483.9,784.7"/>
<path d="M436.6,161.3 C435.6,163.8 434.5,166.2 433.5,168.7 C432.5,171.2 431.4,173.7 430.4,176.1 C429.4,178.6 428.3,181.1 427.3,183.5 C426.3,186.0 425.2,188.5 424.2,190.9 C423.2,193.4 422.2,195.9 421.1,198.4 C420.1,200.9 419.1,203.4 418.0,206.0 C417.0,208.5 415.9,211.1 414.9,213.6 C413.8,216.2 412.8,218.7 411.7,221.3 C410.7,223.8 409.6,226.4 408.6,228.9 C407.5,231.5 406.5,234.1 405.5,236.6 C404.5,239.2 403.5,241.8 402.5,244.4 C401.5,247.0 400.6,249.5 399.6,252.1 C398.7,254.7 397.7,257.3 396.8,259.9 C395.9,262.5 395.0,265.1 394.1,267.7 C393.2,270.3 392.3,272.9 391.4,275.5 C390.6,278.2 389.7,280.8 388.9,283.4 C388.1,286.1 387.3,288.7 386.5,291.4 C385.7,294.0 385.0,296.7 384.2,299.4 C383.5,302.2 382.8,304.9 382.1,307.6 C381.4,310.4 380.8,313.1 380.1,315.8 C379.4,318.5 378.8,321.2 378.1,323.9 C377.5,326.5 376.8,329.2 376.2,331.8 C375.5,334.5 374.8,337.1 374.2,339.7 C373.6,342.4 373.0,345.0 372.4,347.6 C371.8,350.3 371.3,353.0 370.8,355.6 C370.4,358.3 370.0,361.0 369.6,363.7 C369.2,366.3 368.9,369.0 368.6,371.7 C368.3,374.4 368.0,377.2 367.8,379.9 C367.5,382.6 367.2,385.3 367.0,388.0 C366.7,390.8 366.4,393.5 366.1,396.2 C365.8,399.0 365.5,401.8 365.2,404.6 C364.9,407.3 364.7,410.1 364.5,412.9 C364.3,415.7 364.2,418.5 364.2,421.3 C364.1,424.1 364.1,426.9 364.1,429.6 C364.1,432.4 364.2,435.2 364.3,438.0 C364.4,440.8 364.6,443.6 364.8,446.4 C365.0,449.2 365.3,451.9 365.6,454.7 C365.9,457.5 366.2,460.2 366.6,463.0 C366.9,465.7 367.3,468.5 367.7,471.2 C368.2,473.9 368.6,476.6 369.1,479.3 C369.6,482.0 370.1,484.7 370.6,487.4 C371.1,490.2 371.7,492.9 372.3,495.6 C372.9,498.4 373.5,501.1 374.2,503.8 C374.9,506.6 375.6,509.3 376.3,512.0 C377.0,514.7 377.8,517.4 378.5,520.1 C379.3,522.8 380.0,525.5 380.9,528.2 C381.7,530.8 382.5,533.5 383.4,536.1 C384.2,538.7 385.2,541.4 386.2,543.9 C387.2,546.5 388.3,549.1 389.5,551.6 C390.6,554.1 391.9,556.7 393.2,559.1 C394.5,561.6 395.9,564.1 397.3,566.5 C398.6,568.9 400.1,571.3 401.5,573.7 C403.0,576.1 404.4,578.4 405.9,580.7 C407.4,583.1 409.0,585.3 410.6,587.6 C412.1,589.9 413.8,592.1 415.4,594.3 C417.1,596.4 418.7,598.6 420.4,600.7 C422.1,602.8 423.9,604.9 425.6,606.9 C427.4,609.0 429.2,611.0 431.0,612.9 C432.9,614.9 434.8,616.8 436.7,618.7 C438.8,620.7 440.9,622.5 443.0,624.4 C445.2,626.3 447.5,628.1 449.8,629.9 C452.0,631.7 454.3,633.4 456.6,635.2 C458.8,636.9 461.0,638.6 463.3,640.2 C465.5,641.9 467.8,643.5 470.2,645.0 C472.5,646.6 475.0,648.1 477.4,649.6 C479.9,651.1 482.4,652.6 484.8,654.1 C487.3,655.6 489.8,657.1 492.3,658.7 C494.7,660.3 497.2,661.9 499.6,663.5 C502.0,665.1 504.3,666.7 506.7,668.3 C508.9,669.8 511.2,671.4 513.4,673.0 C515.7,674.6 518.0,676.1 520.3,677.7 C522.7,679.3 525.1,681.0 527.5,682.5 C529.9,684.1 532.4,685.7 534.9,687.2 C537.4,688.7 539.9,690.1 542.4,691.4 C544.9,692.8 547.5,694.0 550.0,695.3"/>
<path d="M473.9,161.5 C475.8,163.4 477.7,165.3 479.6,167.2 C481.5,169.1 483.4,171.0 485.3,172.9 C487.2,174.7 489.1,176.6 491.0,178.5 C492.9,180.4 494.8,182.3 496.7,184.2 C498.6,186.1 500.5,188.0 502.4,190.0 C504.3,191.9 506.2,193.8 508.1,195.7 C510.0,197.7 511.9,199.6 513.8,201.6 C515.8,203.5 517.7,205.5 519.6,207.4 C521.5,209.4 523.4,211.4 525.3,213.3 C527.2,215.3 529.1,217.2 531.0,219.2 C532.9,221.2 534.8,223.1 536.7,225.1 C538.6,227.0 540.5,229.0 542.4,230.9 C544.3,232.9 546.2,234.8 548.1,236.8 C550.0,238.7 551.8,240.6 553.7,242.6 C555.6,244.5 557.5,246.4 559.3,248.3 C561.2,250.3 563.1,252.2 564.9,254.1 C566.8,256.1 568.7,258.0 570.5,259.9 C572.4,261.9 574.3,263.8 576.1,265.8 C578.0,267.7 579.9,269.7 581.8,271.6 C583.6,273.6 585.5,275.5 587.4,277.5 C589.3,279.5 591.2,281.4 593.1,283.4 C595.0,285.4 596.9,287.4 598.8,289.4 C600.7,291.3 602.6,293.3 604.5,295.3 C606.4,297.3 608.3,299.3 610.2,301.3 C612.1,303.3 613.9,305.3 615.8,307.3 C617.7,309.3 619.5,311.3 621.4,313.3 C623.3,315.4 625.2,317.4 627.0,319.4 C628.9,321.5 630.7,323.5 632.6,325.6 C634.4,327.6 636.2,329.7 638.0,331.8 C639.7,333.9 641.5,336.0 643.2,338.2 C644.9,340.3 646.6,342.4 648.3,344.6 C650.0,346.7 651.7,348.9 653.4,351.0 C655.1,353.1 656.9,355.3 658.6,357.4 C660.3,359.6 662.1,361.7 663.8,363.8 C665.5,366.0 667.1,368.1 668.8,370.3 C670.4,372.4 672.0,374.6 673.7,376.8 C675.4,379.0 677.0,381.2 678.8,383.4 C680.5,385.6 682.4,387.8 684.2,390.0 C686.0,392.2 687.8,394.4 689.5,396.6 C691.3,398.9 693.0,401.2 694.6,403.5 C696.2,405.8 697.8,408.2 699.3,410.6 C700.8,413.0 702.3,415.4 703.7,417.9 C705.1,420.3 706.4,422.8 707.7,425.3 C708.9,427.9 710.2,430.4 711.3,433.0 C712.5,435.6 713.6,438.2 714.6,440.9 C715.6,443.5 716.6,446.2 717.5,448.9 C718.4,451.6 719.2,454.4 719.9,457.1 C720.7,459.9 721.4,462.7 722.0,465.5 C722.7,468.3 723.3,471.1 723.8,473.9 C724.3,476.6 724.8,479.4 725.2,482.2 C725.6,485.0 725.9,487.8 726.2,490.6 C726.5,493.4 726.8,496.2 726.9,499.0 C727.1,501.7 727.2,504.5 727.3,507.3 C727.4,510.1 727.4,512.9 727.3,515.6 C727.3,518.4 727.2,521.1 727.0,523.8 C726.8,526.5 726.6,529.2 726.4,531.9 C726.1,534.6 725.8,537.3 725.5,539.9 C725.1,542.6 724.8,545.3 724.4,548.0 C724.0,550.7 723.6,553.3 723.1,556.0 C722.7,558.7 722.2,561.4 721.7,564.1 C721.2,566.9 720.7,569.6 720.1,572.3 C719.6,575.1 719.0,577.8 718.4,580.6 C717.9,583.3 717.3,586.0 716.7,588.8 C716.5,590.2 716.2,591.5 715.9,592.9"/>
<path d="M510.2,333.5 C512.9,334.0 515.5,334.5 518.2,335.0 C520.8,335.5 523.5,336.0 526.2,336.6 C528.9,337.1 531.6,337.6 534.3,338.2 C537.1,338.7 539.9,339.3 542.7,339.9 C545.4,340.5 548.2,341.1 550.9,341.8 C553.6,342.5 556.3,343.2 559.0,344.0 C561.6,344.8 564.2,345.7 566.8,346.6 C569.4,347.5 571.9,348.4 574.5,349.4 C577.1,350.4 579.7,351.5 582.2,352.6 C584.8,353.7 587.4,354.9 589.9,356.2 C592.5,357.4 595.1,358.7 597.6,360.1 C600.1,361.4 602.7,362.8 605.2,364.2 C607.7,365.6 610.2,367.1 612.7,368.5 C615.1,369.9 617.6,371.3 620.1,372.6 C622.6,373.8 625.1,374.8 627.6,376.0 C630.0,377.1 632.5,378.1 634.9,379.4 C637.3,380.8 639.7,382.2 642.0,383.8 C644.3,385.5 646.5,387.3 648.7,389.2 C650.8,391.0 652.9,393.0 655.0,395.0 C657.0,396.9 659.0,398.9 660.9,400.9 C662.8,402.9 664.7,404.9 666.5,407.0 C668.3,409.1 670.0,411.3 671.7,413.5 C673.3,415.8 674.8,418.1 676.3,420.5 C677.8,422.9 679.2,425.3 680.5,427.8 C681.8,430.3 683.1,432.8 684.3,435.3 C685.5,437.8 686.6,440.3 687.7,442.9 C688.7,445.5 689.8,448.1 690.7,450.7 C691.7,453.3 692.6,456.0 693.4,458.6 C694.3,461.3 695.2,464.1 695.9,466.8 C696.7,469.6 697.5,472.3 698.2,475.1 C698.9,477.9 699.5,480.7 700.1,483.4 C700.7,486.2 701.3,488.9 701.9,491.7 C702.4,494.4 702.9,497.2 703.4,499.9 C703.9,502.7 704.4,505.4 704.8,508.2 C705.3,511.0 705.7,513.8 706.1,516.6 C706.5,519.5 706.9,522.3 707.3,525.2 C707.6,528.0 707.9,530.8 708.2,533.6 C708.5,536.4 708.7,539.1 709.0,541.9 C709.2,544.6 709.3,547.3 709.5,550.0 C709.6,552.7 709.8,555.3 709.9,558.0 C710.0,560.8 710.1,563.5 710.2,566.2 C710.3,568.9 710.4,571.7 710.5,574.4 C710.6,577.1 710.7,579.9 710.7,582.6 C710.8,585.4 710.9,588.1 710.9,590.8 C711.0,591.5 711.0,592.2 711.0,592.9"/>
<path d="M622.4,449.3 C633.4,471.2 644.1,493.3 655.4,515.1 C669.0,541.2 683.3,567.0 697.3,592.9"/>
<path d="M469.6,534.4 L662.2,600.3"/>
<path d="M733.9,161.3 C735.1,163.8 736.4,166.2 737.6,168.7 C738.8,171.2 740.0,173.7 741.1,176.3 C742.3,178.8 743.4,181.4 744.4,184.0 C745.5,186.7 746.5,189.4 747.5,192.0 C748.5,194.7 749.4,197.4 750.4,200.1 C751.4,202.8 752.5,205.4 753.5,208.1 C754.5,210.8 755.5,213.4 756.5,216.1 C757.4,218.7 758.3,221.4 759.2,224.1 C760.1,226.7 761.0,229.4 761.8,232.0 C762.7,234.7 763.6,237.3 764.5,239.9 C765.4,242.5 766.3,245.1 767.3,247.7 C768.2,250.3 769.2,252.8 770.1,255.4 C771.1,258.0 772.0,260.5 772.9,263.1 C773.8,265.7 774.6,268.4 775.4,271.0 C776.2,273.6 776.9,276.3 777.7,279.0 C778.4,281.7 779.1,284.3 779.8,287.0 C780.5,289.7 781.2,292.4 781.9,295.1 C782.6,297.8 783.3,300.5 783.9,303.2 C784.6,305.9 785.3,308.6 785.9,311.3 C786.5,314.0 787.1,316.7 787.7,319.4 C788.3,322.1 788.8,324.8 789.3,327.5 C789.8,330.1 790.3,332.8 790.8,335.5 C791.2,338.1 791.6,340.8 792.1,343.5 C792.5,346.2 792.9,348.9 793.3,351.6 C793.7,354.3 794.1,357.0 794.5,359.8 C794.9,362.6 795.3,365.3 795.7,368.1 C796.0,370.9 796.4,373.7 796.7,376.5 C797.0,379.3 797.3,382.0 797.6,384.8 C797.9,387.6 798.1,390.3 798.3,393.1 C798.5,395.9 798.7,398.7 798.9,401.4 C799.1,404.2 799.2,407.0 799.3,409.7 C799.4,412.5 799.5,415.3 799.5,418.0 C799.6,420.8 799.6,423.6 799.5,426.4 C799.5,429.2 799.5,432.0 799.4,434.8 C799.3,437.6 799.2,440.4 799.1,443.2 C798.9,446.0 798.8,448.8 798.6,451.6 C798.4,454.4 798.2,457.1 798.0,459.9 C797.7,462.6 797.5,465.3 797.2,468.0 C797.0,470.7 796.7,473.3 796.4,476.0 C796.0,478.7 795.7,481.4 795.3,484.0 C795.0,486.7 794.6,489.5 794.2,492.2 C793.8,494.9 793.3,497.7 792.9,500.5 C792.4,503.3 791.9,506.1 791.3,508.8 C790.7,511.6 790.0,514.4 789.3,517.2 C788.5,520.0 787.7,522.7 786.8,525.5 C786.0,528.3 785.1,531.0 784.1,533.7 C783.1,536.4 782.0,539.1 780.9,541.7 C779.8,544.3 778.6,546.8 777.3,549.3 C776.0,551.7 774.7,554.2 773.3,556.5 C771.9,558.9 770.4,561.3 768.8,563.6 C767.2,566.0 765.6,568.3 763.8,570.5 C762.1,572.8 760.2,575.1 758.3,577.2 C756.5,579.4 754.5,581.5 752.5,583.6 C750.6,585.5 748.5,587.4 746.5,589.2 C745.0,590.6 743.4,591.9 741.9,593.2"/>
<path d="M854.1,257.2 C854.7,259.9 855.2,262.6 855.8,265.4 C856.4,268.1 856.9,270.8 857.5,273.6 C858.1,276.3 858.6,279.0 859.2,281.7 C859.7,284.5 860.3,287.2 860.8,289.9 C861.4,292.7 861.9,295.4 862.4,298.1 C862.9,300.8 863.4,303.5 863.9,306.2 C864.3,308.9 864.8,311.5 865.3,314.2 C865.7,316.9 866.2,319.5 866.6,322.2 C867.0,324.9 867.4,327.6 867.8,330.3 C868.2,333.0 868.5,335.7 868.8,338.4 C869.2,341.1 869.5,343.9 869.8,346.7 C870.1,349.5 870.3,352.3 870.6,355.1 C870.8,358.0 871.0,360.8 871.2,363.6 C871.4,366.4 871.5,369.1 871.6,371.9 C871.7,374.6 871.8,377.3 871.9,380.0 C871.9,382.7 871.9,385.4 871.9,388.1 C871.9,390.7 871.9,393.4 871.8,396.1 C871.7,398.8 871.6,401.4 871.5,404.1 C871.4,406.8 871.2,409.4 871.0,412.1 C870.8,414.8 870.6,417.4 870.3,420.1 C870.1,422.8 869.7,425.4 869.4,428.1 C869.0,430.8 868.6,433.4 868.2,436.1 C867.8,438.8 867.4,441.4 866.9,444.1 C866.4,446.7 865.9,449.4 865.5,452.0 C865.0,454.7 864.5,457.4 864.0,460.0 C863.6,462.7 863.2,465.4 862.7,468.1 C862.3,470.7 861.9,473.4 861.3,476.1 C860.8,478.8 860.3,481.4 859.7,484.1 C859.1,486.7 858.3,489.3 857.5,491.9 C856.7,494.4 855.7,497.0 854.7,499.5 C853.7,502.0 852.6,504.5 851.4,507.0 C850.3,509.5 849.1,512.0 847.9,514.5 C846.6,517.1 845.4,519.6 844.0,522.1 C842.6,524.6 841.3,527.2 839.7,529.6 C838.2,532.0 836.6,534.4 835.0,536.7 C833.3,539.1 831.5,541.3 829.6,543.5 C827.7,545.7 825.8,547.9 823.8,550.0 C821.9,552.1 819.9,554.1 817.8,556.1 C815.8,558.1 813.7,560.1 811.6,562.0 C809.4,563.9 807.3,565.7 805.1,567.5 C802.9,569.3 800.6,571.1 798.4,572.8 C796.1,574.5 793.8,576.1 791.5,577.7 C789.2,579.4 786.8,580.9 784.5,582.5 C782.1,584.0 779.7,585.5 777.3,587.0 C774.9,588.5 772.5,590.0 770.1,591.5 C767.7,593.1 765.4,594.7 763.0,596.4 C761.2,597.6 759.5,598.9 757.7,600.1"/>
<path d="M767.7,37.1 C770.4,37.7 773.0,38.3 775.7,38.9 C778.4,39.6 781.1,40.2 783.8,40.8 C786.4,41.4 789.1,41.9 791.8,42.5 C794.5,43.2 797.2,43.8 799.8,44.4 C802.5,45.0 805.2,45.6 807.9,46.3 C810.5,47.0 813.2,47.7 815.8,48.4 C818.5,49.1 821.1,49.9 823.7,50.6 C826.4,51.4 829.0,52.2 831.6,53.1 C834.2,53.9 836.8,54.7 839.4,55.6 C842.0,56.5 844.6,57.4 847.2,58.3 C849.8,59.2 852.4,60.1 855.0,61.0 C857.6,62.0 860.2,63.0 862.8,64.0 C865.5,65.0 868.1,66.0 870.7,67.1 C873.3,68.1 875.9,69.2 878.5,70.2 C881.2,71.3 883.8,72.4 886.4,73.4 C889.0,74.5 891.7,75.5 894.3,76.5 C896.9,77.6 899.6,78.6 902.2,79.7 C904.9,80.7 907.5,81.8 910.1,82.9 C912.7,83.9 915.3,85.0 917.9,86.2 C920.4,87.3 923.0,88.5 925.5,89.6 C928.1,90.8 930.6,92.0 933.1,93.3 C935.6,94.5 938.0,95.8 940.5,97.2 C942.9,98.5 945.3,99.9 947.6,101.3 C949.9,102.7 952.2,104.2 954.5,105.6 C956.7,107.1 959.0,108.7 961.2,110.2 C963.4,111.8 965.5,113.4 967.7,115.1 C969.8,116.7 971.9,118.4 974.0,120.1 C976.0,121.8 978.0,123.6 980.0,125.4 C982.0,127.2 984.0,129.0 985.9,130.9 C987.8,132.8 989.7,134.7 991.6,136.6 C993.5,138.6 995.3,140.6 997.1,142.6 C998.8,144.6 1000.6,146.6 1002.3,148.7 C1004.0,150.8 1005.6,152.9 1007.2,155.0 C1008.9,157.1 1010.5,159.3 1012.0,161.5 C1013.5,163.7 1015.0,165.9 1016.5,168.2 C1018.0,170.5 1019.4,172.8 1020.7,175.1 C1022.1,177.5 1023.4,179.9 1024.6,182.4 C1025.9,184.9 1027.2,187.4 1028.3,190.0 C1029.5,192.7 1030.6,195.4 1031.5,198.1 C1032.5,200.8 1033.3,203.6 1034.0,206.4 C1034.7,209.2 1035.3,212.1 1035.8,215.0 C1036.3,217.8 1036.7,220.7 1037.1,223.5 C1037.4,226.3 1037.6,229.1 1037.8,231.9 C1038.0,234.6 1038.0,237.3 1038.1,240.0 C1038.2,242.7 1038.2,245.4 1038.2,248.0 C1038.2,250.8 1038.2,253.5 1038.2,256.3 C1038.2,259.0 1038.2,261.8 1038.2,264.6 C1038.2,267.4 1038.2,270.1 1038.2,272.9 C1038.2,275.7 1038.2,278.5 1038.2,281.2 C1038.2,284.0 1038.2,286.8 1038.2,289.6 C1038.2,292.4 1038.2,295.1 1038.2,297.9 C1038.2,300.7 1038.2,303.5 1038.2,306.2 C1038.2,309.0 1038.3,311.8 1038.3,314.6 C1038.3,317.4 1038.2,320.2 1038.2,323.0 C1038.1,325.8 1038.1,328.6 1037.9,331.4 C1037.8,334.2 1037.6,337.1 1037.4,339.9 C1037.1,342.6 1036.8,345.4 1036.4,348.1 C1036.1,350.8 1035.6,353.6 1035.2,356.3 C1034.7,359.0 1034.3,361.7 1033.7,364.3 C1033.2,367.0 1032.6,369.7 1031.9,372.4 C1031.3,375.0 1030.5,377.7 1029.7,380.3 C1028.9,383.0 1028.0,385.7 1027.0,388.3 C1026.1,390.9 1025.0,393.6 1023.9,396.2 C1022.8,398.8 1021.7,401.3 1020.5,403.9 C1019.3,406.4 1018.1,408.9 1016.9,411.3 C1015.6,413.7 1014.4,416.1 1013.0,418.5 C1011.7,420.8 1010.4,423.1 1009.0,425.4 C1007.6,427.7 1006.1,430.0 1004.6,432.2 C1003.1,434.4 1001.5,436.6 999.9,438.7 C998.3,440.9 996.6,443.0 994.9,445.1 C993.1,447.1 991.3,449.2 989.6,451.2 C987.8,453.3 985.9,455.3 984.1,457.3 C982.3,459.3 980.4,461.4 978.6,463.4 C976.7,465.4 974.8,467.4 972.9,469.4 C971.0,471.4 969.1,473.3 967.1,475.3 C965.1,477.3 963.2,479.2 961.2,481.1 C959.2,483.0 957.2,484.9 955.2,486.8 C953.1,488.7 951.1,490.6 949.1,492.4 C947.0,494.3 944.9,496.1 942.8,497.9 C940.7,499.7 938.6,501.5 936.5,503.3 C934.4,505.1 932.3,506.9 930.1,508.6 C928.0,510.4 925.8,512.1 923.6,513.8 C921.4,515.4 919.2,517.1 917.0,518.7 C914.8,520.3 912.6,521.8 910.3,523.3 C908.1,524.8 905.9,526.3 903.6,527.7 C901.4,529.1 899.1,530.5 896.8,531.9 C894.5,533.3 892.2,534.7 889.9,536.0 C887.5,537.4 885.2,538.8 882.9,540.2 C880.5,541.6 878.0,543.0 875.6,544.4 C873.2,545.8 870.7,547.2 868.2,548.6 C865.8,550.0 863.3,551.3 860.8,552.7 C858.3,554.0 855.8,555.3 853.3,556.6 C850.7,557.9 848.2,559.1 845.6,560.4 C843.1,561.6 840.5,562.8 837.9,564.0 C835.4,565.2 832.8,566.4 830.2,567.6 C827.7,568.8 825.1,570.0 822.5,571.1 C819.9,572.3 817.4,573.5 814.8,574.6 C812.2,575.8 809.6,576.9 807.0,578.0 C804.5,579.1 801.9,580.2 799.3,581.3 C796.8,582.4 794.2,583.5 791.6,584.6 C789.0,585.7 786.5,586.7 783.9,587.9 C781.4,589.0 778.9,590.1 776.4,591.3 C773.9,592.4 771.4,593.6 768.9,594.8 C766.4,596.0 763.9,597.3 761.4,598.5 C760.2,599.1 758.9,599.7 757.7,600.3"/>
<path d="M767.7,32.6 C770.4,32.8 773.1,33.0 775.8,33.1 C778.4,33.3 781.1,33.5 783.8,33.7 C786.5,33.8 789.2,34.0 791.9,34.2 C794.5,34.4 797.2,34.6 799.9,34.8 C802.6,34.9 805.3,35.1 808.0,35.4 C810.6,35.6 813.3,35.8 816.0,36.0 C818.7,36.2 821.4,36.5 824.1,36.7 C826.8,36.9 829.5,37.2 832.2,37.4 C834.9,37.7 837.6,37.9 840.3,38.2 C843.0,38.4 845.7,38.7 848.4,39.0 C851.1,39.3 853.8,39.5 856.5,39.9 C859.2,40.2 861.9,40.5 864.6,40.8 C867.3,41.2 870.0,41.5 872.6,41.9 C875.3,42.3 878.0,42.7 880.7,43.1 C883.5,43.6 886.2,44.0 889.0,44.5 C891.7,45.0 894.5,45.6 897.3,46.1 C900.0,46.6 902.8,47.2 905.6,47.7 C908.4,48.3 911.1,48.8 913.9,49.4 C916.7,49.9 919.5,50.4 922.3,50.9 C925.0,51.4 927.8,51.9 930.6,52.5 C933.4,53.0 936.2,53.6 938.9,54.2 C941.6,54.8 944.4,55.5 947.1,56.3 C949.8,57.0 952.5,57.8 955.1,58.7 C957.7,59.5 960.3,60.4 962.8,61.5 C965.3,62.5 967.7,63.7 970.1,64.9 C972.4,66.1 974.8,67.4 977.1,68.7 C979.4,69.9 981.8,71.3 984.1,72.6 C986.5,73.9 988.8,75.1 991.2,76.4 C993.7,77.6 996.1,78.8 998.6,80.0 C1001.1,81.1 1003.6,82.3 1006.1,83.4 C1008.6,84.6 1011.2,85.7 1013.7,86.9 C1016.2,88.0 1018.7,89.2 1021.2,90.3 C1023.7,91.5 1026.2,92.7 1028.6,93.9 C1031.1,95.1 1033.5,96.3 1036.0,97.5 C1038.4,98.7 1040.8,99.9 1043.2,101.1 C1045.6,102.4 1048.0,103.6 1050.4,104.9 C1052.8,106.1 1055.2,107.4 1057.5,108.8 C1059.9,110.1 1062.2,111.5 1064.5,112.9 C1066.8,114.4 1069.1,115.9 1071.4,117.4 C1073.8,118.9 1076.1,120.5 1078.3,122.1 C1080.6,123.7 1082.9,125.4 1085.1,127.1 C1087.3,128.8 1089.5,130.6 1091.6,132.4 C1093.7,134.2 1095.7,136.1 1097.7,138.0 C1099.6,140.0 1101.6,142.0 1103.4,144.0 C1105.3,146.1 1107.1,148.2 1108.8,150.4 C1110.6,152.5 1112.2,154.7 1113.8,157.0 C1115.4,159.2 1117.0,161.6 1118.4,163.9 C1119.9,166.3 1121.2,168.7 1122.5,171.2 C1123.8,173.7 1125.1,176.2 1126.3,178.7 C1127.5,181.3 1128.6,183.9 1129.7,186.5 C1130.8,189.1 1131.9,191.8 1132.8,194.5 C1133.8,197.3 1134.8,200.1 1135.5,202.9 C1136.3,205.7 1136.9,208.6 1137.4,211.4 C1137.9,214.2 1138.3,217.0 1138.6,219.9 C1138.9,222.6 1139.1,225.3 1139.3,228.0 C1139.5,230.7 1139.5,233.3 1139.6,236.0 C1139.7,238.7 1139.6,241.3 1139.6,244.0 C1139.6,246.7 1139.6,249.4 1139.6,252.1 C1139.6,254.9 1139.6,257.7 1139.6,260.4 C1139.6,263.2 1139.6,266.0 1139.6,268.8 C1139.6,271.5 1139.6,274.3 1139.6,277.1 C1139.6,279.9 1139.6,282.6 1139.6,285.4 C1139.6,288.2 1139.6,291.0 1139.6,293.8 C1139.6,296.5 1139.6,299.3 1139.6,302.1 C1139.6,304.9 1139.6,307.6 1139.6,310.4 C1139.6,313.2 1139.6,316.0 1139.6,318.7 C1139.6,321.5 1139.6,324.2 1139.6,326.9 C1139.5,329.6 1139.5,332.3 1139.5,335.0 C1139.4,337.7 1139.3,340.4 1139.2,343.2 C1139.1,346.0 1138.9,348.9 1138.7,351.7 C1138.4,354.6 1138.1,357.5 1137.8,360.4 C1137.5,363.3 1137.2,366.1 1136.8,368.9 C1136.4,371.6 1136.0,374.3 1135.6,377.0 C1135.2,379.8 1134.7,382.5 1134.3,385.2 C1133.9,387.9 1133.4,390.6 1132.9,393.3 C1132.5,396.0 1132.0,398.8 1131.6,401.5 C1131.1,404.2 1130.7,407.0 1130.2,409.7 C1129.7,412.5 1129.2,415.2 1128.7,417.9 C1128.1,420.5 1127.5,423.2 1126.9,425.8 C1126.3,428.4 1125.6,431.0 1124.9,433.6 C1124.2,436.1 1123.4,438.7 1122.5,441.2 C1121.6,443.7 1120.7,446.2 1119.7,448.7 C1118.7,451.1 1117.5,453.6 1116.4,456.0 C1115.2,458.4 1114.0,460.7 1112.7,463.1 C1111.4,465.5 1110.1,467.8 1108.7,470.1 C1107.3,472.4 1105.9,474.7 1104.4,476.9 C1102.9,479.2 1101.4,481.4 1099.8,483.7 C1098.2,485.9 1096.6,488.1 1095.0,490.2 C1093.3,492.4 1091.6,494.6 1089.9,496.7 C1088.2,498.8 1086.4,500.9 1084.6,503.0 C1082.8,505.1 1081.0,507.2 1079.1,509.2 C1077.3,511.3 1075.4,513.3 1073.4,515.3 C1071.5,517.3 1069.6,519.3 1067.6,521.2 C1065.6,523.2 1063.6,525.1 1061.6,527.1 C1059.6,529.0 1057.6,530.9 1055.5,532.8 C1053.4,534.7 1051.3,536.5 1049.2,538.4 C1047.1,540.2 1045.0,542.0 1042.8,543.8 C1040.6,545.6 1038.5,547.3 1036.3,549.1 C1034.1,550.8 1031.9,552.5 1029.6,554.1 C1027.4,555.8 1025.2,557.4 1022.9,559.1 C1020.7,560.7 1018.5,562.3 1016.2,564.0 C1014.0,565.6 1011.8,567.2 1009.6,568.8 C1007.4,570.4 1005.1,571.9 1002.9,573.5 C1000.7,575.0 998.4,576.6 996.2,578.1 C993.9,579.6 991.6,581.1 989.3,582.6 C986.9,584.1 984.6,585.5 982.2,587.0 C979.8,588.4 977.4,589.8 975.0,591.2 C972.7,592.6 970.3,594.0 967.9,595.5 C965.5,596.9 963.1,598.3 960.7,599.7 C958.3,601.2 956.0,602.6 953.6,604.1 C951.2,605.5 948.8,607.0 946.4,608.4 C944.0,609.8 941.7,611.2 939.2,612.5 C936.9,613.9 934.5,615.2 932.1,616.5 C929.7,617.8 927.3,619.1 924.9,620.4 C922.5,621.7 920.2,623.0 917.8,624.3 C915.5,625.7 913.2,627.1 910.9,628.4 C908.6,629.8 906.4,631.3 904.1,632.7 C901.9,634.1 899.6,635.6 897.4,637.0 C895.1,638.4 892.8,639.8 890.5,641.1 C888.1,642.4 885.8,643.6 883.4,644.9 C880.9,646.1 878.4,647.2 875.9,648.4 C873.4,649.5 870.9,650.6 868.4,651.6 C865.8,652.7 863.3,653.7 860.7,654.7 C858.2,655.7 855.6,656.6 853.1,657.5 C850.5,658.5 847.9,659.3 845.4,660.2 C842.8,661.1 840.2,661.9 837.6,662.7 C835.0,663.5 832.4,664.3 829.8,665.0 C827.2,665.8 824.5,666.6 821.9,667.4 C819.2,668.2 816.5,668.9 813.8,669.7 C811.1,670.5 808.3,671.3 805.6,672.0 C802.8,672.9 800.1,673.7 797.3,674.5 C794.6,675.3 791.8,676.2 789.0,676.9 C786.2,677.7 783.5,678.5 780.7,679.2 C777.9,679.9 775.1,680.6 772.4,681.3 C769.6,682.0 766.8,682.7 764.0,683.4 C761.3,684.1 758.5,684.8 755.7,685.4 C752.9,686.1 750.1,686.7 747.4,687.2 C744.6,687.8 741.8,688.4 739.0,688.9 C736.2,689.5 733.4,690.0 730.6,690.6 C727.9,691.1 725.1,691.7 722.3,692.3 C719.5,692.8 716.7,693.4 713.9,693.9 C711.2,694.5 708.4,695.0 705.6,695.6 C702.8,696.1 700.0,696.7 697.2,697.2 C694.5,697.8 691.7,698.3 688.9,698.9 C686.1,699.5 683.3,700.0 680.5,700.6 C677.8,701.2 675.0,701.7 672.2,702.2 C669.4,702.8 666.6,703.3 663.9,703.8 C661.1,704.2 658.3,704.7 655.5,705.1 C652.8,705.6 650.0,706.0 647.2,706.4 C644.5,706.7 641.7,707.1 638.9,707.5 C636.2,707.8 633.4,708.2 630.6,708.5 C628.6,708.8 626.5,709.0 624.4,709.3"/>
<path d="M757.7,143.5 C760.4,144.0 763.1,144.6 765.8,145.1 C768.5,145.6 771.2,146.1 773.9,146.7 C776.6,147.2 779.3,147.8 782.0,148.4 C784.7,149.0 787.4,149.6 790.1,150.2 C792.7,150.9 795.4,151.6 798.0,152.3 C800.7,153.0 803.3,153.7 805.9,154.5 C808.6,155.3 811.2,156.1 813.8,156.9 C816.4,157.8 819.0,158.6 821.5,159.5 C824.1,160.4 826.6,161.4 829.1,162.3 C831.6,163.3 834.1,164.3 836.6,165.4 C839.1,166.6 841.6,167.8 844.0,169.1 C846.5,170.5 849.0,172.0 851.4,173.4 C853.8,174.9 856.2,176.5 858.5,178.0 C860.8,179.5 863.1,181.0 865.3,182.6 C867.6,184.2 869.8,185.8 871.9,187.5 C874.1,189.2 876.2,191.0 878.3,192.8 C880.4,194.6 882.5,196.5 884.5,198.5 C886.5,200.4 888.4,202.4 890.4,204.4 C892.3,206.4 894.3,208.4 896.2,210.5 C898.0,212.6 899.9,214.6 901.7,216.7 C903.5,218.9 905.3,221.0 907.0,223.2 C908.8,225.4 910.5,227.6 912.1,229.8 C913.8,232.1 915.4,234.3 917.0,236.6 C918.6,238.9 920.1,241.1 921.7,243.4 C923.2,245.7 924.7,248.0 926.1,250.3 C927.5,252.6 928.9,254.9 930.3,257.2 C931.7,259.5 933.0,261.8 934.4,264.2 C935.7,266.5 937.0,268.9 938.3,271.3 C939.5,273.6 940.8,276.0 942.1,278.4 C943.3,280.9 944.6,283.3 945.8,285.7 C947.0,288.2 948.2,290.7 949.4,293.1 C950.6,295.6 951.8,298.1 952.9,300.6 C954.1,303.1 955.1,305.7 956.2,308.2 C957.2,310.8 958.2,313.3 959.2,315.9 C960.2,318.5 961.1,321.2 962.0,323.8 C962.9,326.4 963.7,329.1 964.5,331.8 C965.3,334.4 966.0,337.1 966.7,339.8 C967.4,342.5 968.0,345.2 968.6,347.9 C969.2,350.6 969.7,353.4 970.1,356.1 C970.5,358.8 970.9,361.6 971.3,364.3 C971.6,367.1 971.8,369.8 972.1,372.6 C972.3,375.4 972.5,378.1 972.6,380.9 C972.7,383.7 972.8,386.4 972.8,389.2 C972.8,391.9 972.7,394.6 972.6,397.4 C972.6,400.1 972.4,402.7 972.2,405.4 C972.0,408.1 971.8,410.8 971.5,413.5 C971.2,416.2 970.9,418.8 970.5,421.5 C970.1,424.2 969.7,426.9 969.2,429.5 C968.8,432.2 968.3,434.8 967.7,437.5 C967.2,440.1 966.6,442.8 966.0,445.4 C965.4,448.1 964.7,450.7 964.0,453.4 C963.3,456.0 962.6,458.7 961.8,461.3 C961.0,463.9 960.1,466.6 959.3,469.2 C958.5,471.8 957.6,474.4 956.7,477.0 C955.9,479.6 955.0,482.3 954.1,484.9 C953.2,487.5 952.4,490.1 951.5,492.7 C950.6,495.3 949.8,498.0 948.9,500.6 C948.0,503.2 947.1,505.8 946.2,508.4 C945.3,511.0 944.4,513.5 943.4,516.1 C942.5,518.7 941.5,521.3 940.5,523.9 C939.5,526.5 938.6,529.1 937.6,531.6 C936.5,534.2 935.5,536.7 934.4,539.3 C933.4,541.8 932.3,544.3 931.1,546.8 C929.9,549.2 928.8,551.7 927.5,554.1 C926.3,556.5 925.0,558.9 923.7,561.3 C922.4,563.6 921.0,566.0 919.6,568.3 C918.2,570.6 916.7,572.9 915.1,575.1 C913.5,577.4 911.9,579.6 910.2,581.8 C908.5,584.0 906.7,586.2 904.9,588.3 C903.0,590.4 901.1,592.5 899.2,594.5 C897.3,596.6 895.3,598.6 893.3,600.5 C891.3,602.4 889.2,604.3 887.1,606.2 C885.0,608.0 882.9,609.8 880.7,611.5 C878.6,613.2 876.3,614.9 874.1,616.5 C871.8,618.2 869.5,619.8 867.3,621.4 C865.0,623.0 862.7,624.5 860.4,626.1 C858.1,627.7 855.8,629.2 853.5,630.8 C851.3,632.3 849.0,633.8 846.7,635.3 C844.4,636.8 842.1,638.3 839.8,639.8 C837.5,641.2 835.2,642.7 832.8,644.1 C830.5,645.5 828.1,646.8 825.7,648.1 C823.3,649.5 820.9,650.8 818.5,652.0 C816.0,653.3 813.5,654.5 811.1,655.7 C808.6,656.9 806.1,658.1 803.6,659.3 C801.2,660.4 798.7,661.6 796.2,662.7 C793.7,663.8 791.1,664.9 788.6,666.0 C786.0,667.2 783.3,668.3 780.6,669.4 C777.9,670.5 775.2,671.6 772.4,672.6 C769.6,673.7 766.8,674.7 764.1,675.7 C761.3,676.7 758.5,677.6 755.7,678.6 C752.9,679.6 750.1,680.5 747.3,681.5 C744.6,682.5 741.8,683.4 739.0,684.4 C736.2,685.3 733.5,686.2 730.7,687.1 C727.9,687.9 725.1,688.7 722.3,689.5 C719.5,690.3 716.8,691.0 714.0,691.7 C711.2,692.5 708.4,693.1 705.6,693.8 C702.8,694.5 700.0,695.2 697.2,695.9 C694.5,696.6 691.7,697.3 688.9,697.9 C686.1,698.6 683.3,699.2 680.6,699.8 C677.8,700.3 675.0,700.9 672.2,701.4 C669.4,701.9 666.7,702.3 663.9,702.8 C661.1,703.2 658.3,703.6 655.5,704.0 C652.8,704.3 650.0,704.6 647.2,704.9 C644.5,705.2 641.7,705.4 638.9,705.7 C636.2,705.9 633.4,706.1 630.6,706.3 C628.6,706.5 626.5,706.6 624.4,706.8"/>
<path d="M864.1,257.2 C865.4,259.6 866.7,262.0 868.1,264.3 C869.4,266.7 870.7,269.0 872.1,271.4 C873.4,273.8 874.7,276.2 875.9,278.6 C877.1,281.0 878.3,283.4 879.4,285.9 C880.5,288.3 881.5,290.8 882.5,293.4 C883.4,295.9 884.3,298.4 885.1,301.0 C885.9,303.6 886.6,306.2 887.3,308.8 C888.1,311.4 888.7,314.0 889.4,316.6 C890.1,319.2 890.8,321.8 891.4,324.4 C892.1,327.0 892.8,329.7 893.4,332.3 C894.1,334.9 894.8,337.5 895.4,340.2 C896.1,342.8 896.7,345.4 897.4,348.1 C898.0,350.7 898.6,353.4 899.1,356.0 C899.7,358.7 900.2,361.3 900.7,364.0 C901.1,366.6 901.5,369.3 901.9,372.0 C902.3,374.6 902.6,377.3 902.9,380.0 C903.2,382.6 903.5,385.3 903.7,388.0 C904.0,390.7 904.1,393.3 904.3,396.0 C904.4,398.7 904.5,401.4 904.5,404.1 C904.6,406.7 904.6,409.4 904.5,412.1 C904.4,414.8 904.3,417.4 904.1,420.1 C903.9,422.7 903.6,425.4 903.3,428.0 C903.0,430.7 902.6,433.3 902.2,436.0 C901.8,438.6 901.3,441.3 900.8,443.9 C900.3,446.5 899.8,449.1 899.2,451.8 C898.6,454.4 898.0,457.1 897.3,459.7 C896.6,462.4 895.9,465.1 895.1,467.8 C894.3,470.5 893.5,473.2 892.7,475.9 C891.8,478.6 890.9,481.3 890.0,484.0 C889.1,486.6 888.2,489.3 887.3,492.0 C886.4,494.6 885.4,497.2 884.4,499.9 C883.4,502.5 882.4,505.1 881.2,507.6 C880.1,510.2 878.9,512.7 877.7,515.2 C876.4,517.8 875.1,520.2 873.8,522.7 C872.5,525.2 871.1,527.6 869.7,530.1 C868.4,532.5 867.0,534.9 865.7,537.4 C864.3,539.7 863.0,542.1 861.6,544.5 C860.2,546.9 858.8,549.2 857.3,551.6 C855.9,553.9 854.5,556.2 853.0,558.6 C851.5,560.9 850.0,563.2 848.5,565.4 C847.0,567.7 845.4,569.9 843.8,572.2 C842.3,574.3 840.7,576.5 839.0,578.6 C837.4,580.8 835.7,582.8 834.0,584.9 C832.4,587.0 830.7,589.1 829.0,591.2 C827.3,593.2 825.6,595.3 824.0,597.4 C822.3,599.6 820.6,601.7 818.9,603.8 C817.1,606.0 815.4,608.2 813.6,610.3 C811.7,612.5 809.9,614.7 807.9,616.8 C806.0,619.0 804.0,621.0 801.9,623.0 C799.8,624.9 797.6,626.8 795.4,628.6 C793.2,630.3 790.9,632.0 788.7,633.7 C786.5,635.4 784.2,637.0 782.0,638.6 C779.8,640.2 777.6,641.8 775.3,643.3 C773.0,644.8 770.7,646.4 768.3,647.9 C765.9,649.4 763.5,650.9 761.0,652.4 C758.6,653.9 756.1,655.3 753.6,656.7 C751.2,658.2 748.7,659.6 746.2,660.9 C743.8,662.3 741.3,663.6 738.8,664.9 C736.3,666.1 733.9,667.3 731.4,668.5 C728.9,669.6 726.4,670.8 723.8,671.9 C721.2,673.0 718.6,674.1 715.9,675.2 C713.2,676.3 710.5,677.4 707.7,678.5 C704.9,679.5 702.1,680.6 699.3,681.6 C696.6,682.6 693.8,683.6 691.0,684.5 C688.2,685.5 685.4,686.4 682.6,687.3 C679.9,688.1 677.1,688.9 674.3,689.8 C671.5,690.6 668.7,691.3 665.9,692.1 C663.2,692.9 660.4,693.6 657.6,694.4 C655.0,695.1 652.3,695.9 649.6,696.6 C647.0,697.4 644.4,698.2 641.8,698.9 C639.2,699.7 636.6,700.5 634.1,701.3 C631.5,702.1 628.9,702.9 626.3,703.7 C625.7,703.9 625.0,704.1 624.4,704.3"/>
<path d="M757.7,142.3 C760.4,142.9 763.1,143.4 765.8,144.0 C768.5,144.6 771.2,145.1 773.9,145.7 C776.6,146.3 779.3,146.9 782.0,147.5 C784.7,148.1 787.4,148.7 790.1,149.3 C792.7,150.0 795.4,150.6 798.0,151.3 C800.6,152.0 803.3,152.7 805.9,153.4 C808.5,154.1 811.1,154.9 813.7,155.6 C816.4,156.4 819.0,157.1 821.6,157.9 C824.2,158.8 826.8,159.6 829.5,160.4 C832.1,161.3 834.7,162.1 837.3,163.0 C840.0,163.9 842.6,164.9 845.2,165.8 C847.8,166.7 850.4,167.7 853.0,168.7 C855.5,169.7 858.1,170.7 860.6,171.7 C863.2,172.8 865.7,173.8 868.2,174.9 C870.7,176.0 873.2,177.0 875.6,178.2 C878.1,179.3 880.6,180.4 883.0,181.6 C885.5,182.8 887.9,184.0 890.4,185.3 C892.8,186.6 895.3,187.9 897.7,189.3 C900.2,190.7 902.6,192.1 905.1,193.5 C907.5,194.9 909.9,196.4 912.3,197.8 C914.7,199.2 917.0,200.6 919.4,202.0 C921.7,203.4 924.0,204.8 926.3,206.2 C928.6,207.6 930.9,208.9 933.2,210.3 C935.5,211.7 937.8,213.1 940.1,214.6 C942.4,216.0 944.7,217.5 947.0,218.9 C949.3,220.4 951.7,221.9 954.0,223.4 C956.3,224.9 958.6,226.4 960.9,227.9 C963.2,229.4 965.5,230.9 967.8,232.5 C970.1,234.0 972.3,235.6 974.6,237.1 C976.9,238.7 979.1,240.3 981.4,241.8 C983.6,243.4 985.9,245.0 988.1,246.6 C990.3,248.2 992.6,249.9 994.8,251.5 C997.0,253.1 999.2,254.7 1001.4,256.4 C1003.6,258.0 1005.8,259.7 1008.0,261.3 C1010.2,263.0 1012.4,264.7 1014.5,266.3 C1016.7,268.0 1018.8,269.7 1021.0,271.4 C1023.1,273.0 1025.2,274.7 1027.3,276.4 C1029.5,278.1 1031.6,279.8 1033.7,281.4 C1035.8,283.2 1037.9,284.9 1040.1,286.6 C1042.3,288.3 1044.4,290.0 1046.6,291.8 C1048.8,293.5 1051.0,295.3 1053.2,297.0 C1055.3,298.8 1057.5,300.6 1059.7,302.3 C1061.9,304.1 1064.0,305.9 1066.2,307.7 C1068.3,309.5 1070.4,311.2 1072.5,313.0 C1074.7,314.8 1076.8,316.6 1078.9,318.3 C1081.0,320.1 1083.1,321.9 1085.2,323.7 C1087.3,325.5 1089.4,327.3 1091.5,329.1 C1093.5,330.9 1095.6,332.8 1097.7,334.6 C1099.7,336.5 1101.7,338.3 1103.7,340.2 C1105.7,342.0 1107.7,343.8 1109.6,345.7 C1111.6,347.5 1113.5,349.4 1115.5,351.2 C1117.4,353.1 1119.3,354.9 1121.2,356.8 C1123.1,358.7 1125.0,360.6 1126.8,362.5 C1128.7,364.4 1130.5,366.4 1132.3,368.4 C1134.2,370.4 1136.0,372.4 1137.7,374.4 C1139.5,376.5 1141.2,378.6 1142.9,380.7 C1144.7,382.8 1146.4,385.0 1148.0,387.1 C1149.7,389.3 1151.3,391.5 1153.0,393.7 C1154.6,395.9 1156.2,398.1 1157.8,400.3 C1159.5,402.6 1161.1,404.9 1162.7,407.2 C1164.4,409.6 1166.0,412.0 1167.7,414.4 C1169.3,416.8 1170.9,419.2 1172.4,421.7 C1174.0,424.0 1175.5,426.4 1177.0,428.8 C1178.4,431.2 1179.9,433.5 1181.3,435.9 C1182.7,438.3 1184.0,440.8 1185.4,443.2 C1186.7,445.7 1188.0,448.2 1189.2,450.7 C1190.4,453.2 1191.6,455.8 1192.8,458.4 C1193.9,460.9 1195.0,463.5 1196.1,466.1 C1197.1,468.7 1198.0,471.3 1198.9,473.9 C1199.8,476.4 1200.6,479.0 1201.4,481.5 C1202.2,484.1 1202.9,486.7 1203.6,489.3 C1204.3,491.9 1205.0,494.5 1205.6,497.1 C1206.3,499.8 1206.9,502.4 1207.4,505.1 C1208.0,507.7 1208.5,510.4 1209.0,513.1 C1209.5,515.8 1209.9,518.5 1210.3,521.2 C1210.8,523.9 1211.2,526.6 1211.5,529.3 C1211.9,532.0 1212.2,534.7 1212.6,537.4 C1212.9,540.1 1213.2,542.8 1213.4,545.5 C1213.7,548.2 1213.9,550.9 1214.2,553.6 C1214.4,556.4 1214.6,559.1 1214.8,561.9 C1214.9,564.7 1215.1,567.5 1215.2,570.2 C1215.4,573.0 1215.5,575.8 1215.6,578.6 C1215.7,581.4 1215.7,584.2 1215.8,587.0 C1215.9,589.8 1215.9,592.5 1216.0,595.3 C1216.1,598.2 1216.1,601.0 1216.2,603.8 C1216.2,606.6 1216.3,609.4 1216.3,612.3 C1216.4,615.1 1216.4,617.9 1216.4,620.7 C1216.5,623.5 1216.5,626.2 1216.6,628.9 C1216.6,631.6 1216.6,634.3 1216.7,637.0 C1216.7,639.7 1216.8,642.3 1216.8,645.0 C1216.8,647.7 1216.9,650.3 1216.9,653.0 C1216.9,655.7 1217.0,658.3 1217.0,661.0 C1217.0,663.7 1217.0,666.3 1217.0,669.0 C1217.0,671.7 1217.0,674.3 1217.0,677.0 C1217.0,679.7 1217.0,682.4 1217.0,685.1 C1217.0,687.9 1217.0,690.7 1217.0,693.5 C1217.0,696.4 1217.0,699.2 1217.0,702.0 C1217.0,704.9 1217.0,707.8 1216.9,710.7 C1216.9,713.6 1216.8,716.6 1216.6,719.5 C1216.5,722.5 1216.2,725.5 1215.8,728.4 C1215.5,731.4 1215.0,734.4 1214.4,737.3 C1213.8,740.3 1213.1,743.2 1212.2,746.0 C1211.3,748.8 1210.3,751.5 1209.2,754.2 C1208.0,756.8 1206.8,759.3 1205.3,761.7 C1203.9,764.0 1202.3,766.3 1200.6,768.5 C1198.9,770.7 1197.0,772.8 1194.9,774.8 C1192.9,776.9 1190.6,778.8 1188.4,780.6 C1186.1,782.4 1183.7,784.1 1181.3,785.8 C1178.9,787.4 1176.4,788.9 1173.9,790.3 C1171.5,791.7 1169.0,793.0 1166.5,794.3 C1164.1,795.5 1161.6,796.7 1159.2,797.8 C1156.8,798.9 1154.3,800.0 1151.8,801.1 C1149.3,802.2 1146.8,803.2 1144.2,804.3 C1141.6,805.3 1139.0,806.3 1136.4,807.4 C1133.8,808.4 1131.2,809.4 1128.5,810.3 C1125.9,811.3 1123.3,812.3 1120.8,813.2 C1118.2,814.2 1115.6,815.1 1113.0,816.0 C1110.5,817.0 1107.9,817.9 1105.3,818.8 C1102.8,819.7 1100.2,820.7 1097.6,821.6 C1095.0,822.5 1092.4,823.4 1089.9,824.3 C1087.3,825.3 1084.7,826.2 1082.1,827.2 C1079.5,828.2 1076.9,829.3 1074.3,830.4 C1071.6,831.6 1069.0,832.8 1066.3,834.0 C1063.6,835.1 1061.0,836.2 1058.3,837.3 C1055.6,838.3 1053.0,839.2 1050.3,840.1 C1047.6,841.0 1044.9,841.8 1042.2,842.6 C1039.6,843.5 1036.9,844.3 1034.2,845.1 C1031.6,846.0 1029.0,846.8 1026.4,847.7 C1023.8,848.6 1021.2,849.5 1018.7,850.4 C1016.1,851.3 1013.5,852.3 1011.0,853.2 C1008.4,854.1 1005.9,855.0 1003.3,855.9 C1000.8,856.9 998.2,857.8 995.6,858.7 C993.1,859.6 990.5,860.5 987.9,861.3 C985.3,862.2 982.7,863.1 980.1,863.9 C977.5,864.7 974.9,865.5 972.2,866.3 C969.6,867.1 966.9,867.9 964.3,868.7 C961.6,869.4 958.9,870.2 956.3,870.9 C953.6,871.6 950.9,872.4 948.2,873.1 C945.5,873.8 942.9,874.5 940.2,875.2 C937.5,875.8 934.8,876.5 932.2,877.2 C929.5,877.8 926.9,878.5 924.3,879.1 C921.6,879.7 919.0,880.3 916.4,881.0 C913.8,881.6 911.2,882.2 908.6,882.7 C906.0,883.3 903.3,883.9 900.7,884.5 C898.1,885.0 895.4,885.6 892.8,886.1 C890.1,886.7 887.4,887.2 884.7,887.7 C882.0,888.2 879.2,888.7 876.5,889.2 C873.7,889.7 870.9,890.2 868.2,890.7 C865.4,891.2 862.6,891.6 859.8,892.1 C857.1,892.5 854.3,893.0 851.5,893.4 C848.7,893.8 846.0,894.3 843.2,894.7 C840.4,895.1 837.6,895.5 834.8,895.9 C832.1,896.3 829.3,896.6 826.5,897.0 C823.7,897.4 820.9,897.7 818.1,898.0 C815.4,898.3 812.6,898.6 809.8,898.9 C807.0,899.2 804.2,899.5 801.4,899.8 C798.7,900.1 795.9,900.3 793.1,900.6 C790.3,900.8 787.5,901.0 784.7,901.2 C781.9,901.5 779.2,901.7 776.4,901.8 C773.6,902.0 770.8,902.2 768.0,902.3 C765.2,902.5 762.4,902.7 759.6,902.8 C756.8,902.9 754.0,903.1 751.2,903.2 C748.3,903.3 745.5,903.4 742.6,903.5 C739.8,903.6 736.9,903.7 734.0,903.8 C732.6,903.9 731.1,903.9 729.7,904.0"/>
<path d="M883.4,253.9 C885.8,255.3 888.2,256.8 890.6,258.2 C893.0,259.6 895.5,261.0 897.9,262.5 C900.3,263.9 902.7,265.4 905.0,266.9 C907.4,268.3 909.7,269.8 912.0,271.4 C914.3,272.9 916.5,274.4 918.8,275.9 C921.0,277.5 923.2,279.0 925.5,280.6 C927.7,282.2 929.9,283.8 932.1,285.3 C934.3,286.9 936.5,288.5 938.6,290.1 C940.8,291.6 943.0,293.2 945.2,294.8 C947.3,296.4 949.5,297.9 951.6,299.5 C953.8,301.1 955.9,302.7 958.1,304.3 C960.3,305.9 962.4,307.5 964.6,309.1 C966.8,310.7 969.0,312.4 971.2,314.0 C973.4,315.6 975.6,317.3 977.8,318.9 C980.1,320.6 982.3,322.3 984.5,323.9 C986.7,325.6 988.9,327.3 991.0,329.0 C993.2,330.7 995.3,332.4 997.4,334.1 C999.5,335.8 1001.6,337.5 1003.6,339.3 C1005.7,341.0 1007.7,342.8 1009.8,344.6 C1011.8,346.3 1013.8,348.1 1015.9,349.9 C1017.9,351.8 1019.9,353.6 1021.9,355.4 C1023.9,357.2 1025.8,359.1 1027.8,360.9 C1029.8,362.8 1031.7,364.6 1033.7,366.5 C1035.6,368.4 1037.6,370.3 1039.5,372.2 C1041.4,374.1 1043.4,376.0 1045.3,377.9 C1047.2,379.9 1049.1,381.8 1051.0,383.8 C1052.9,385.7 1054.7,387.7 1056.6,389.7 C1058.4,391.7 1060.3,393.7 1062.1,395.8 C1064.0,397.8 1065.8,399.9 1067.6,402.0 C1069.4,404.1 1071.2,406.3 1073.0,408.5 C1074.8,410.7 1076.6,412.9 1078.4,415.0 C1080.2,417.2 1082.0,419.4 1083.8,421.5 C1085.6,423.6 1087.4,425.7 1089.2,427.8 C1091.0,429.8 1092.8,431.9 1094.6,434.0 C1096.4,436.0 1098.2,438.1 1099.9,440.2 C1101.6,442.3 1103.3,444.5 1105.0,446.7 C1106.6,448.8 1108.2,451.0 1109.8,453.2 C1111.4,455.4 1113.0,457.7 1114.5,459.9 C1116.1,462.2 1117.6,464.4 1119.1,466.7 C1120.6,469.0 1122.1,471.3 1123.5,473.7 C1125.0,476.0 1126.5,478.4 1127.9,480.7 C1129.4,483.1 1130.8,485.5 1132.2,487.9 C1133.6,490.3 1135.0,492.6 1136.3,495.0 C1137.6,497.4 1138.9,499.8 1140.2,502.2 C1141.4,504.5 1142.6,506.9 1143.8,509.3 C1145.0,511.7 1146.1,514.1 1147.2,516.6 C1148.3,519.0 1149.4,521.5 1150.4,524.0 C1151.4,526.5 1152.3,529.1 1153.2,531.6 C1154.1,534.2 1155.0,536.8 1155.8,539.4 C1156.6,542.0 1157.4,544.7 1158.0,547.3 C1158.8,550.1 1159.4,552.8 1160.0,555.6 C1160.6,558.3 1161.1,561.1 1161.6,563.9 C1162.1,566.7 1162.5,569.5 1162.9,572.3 C1163.3,575.0 1163.7,577.8 1164.0,580.6 C1164.3,583.4 1164.5,586.2 1164.7,589.0 C1164.9,591.8 1165.1,594.6 1165.3,597.4 C1165.4,600.1 1165.5,602.9 1165.6,605.7 C1165.7,608.5 1165.7,611.3 1165.8,614.1 C1165.9,616.9 1165.9,619.7 1165.9,622.6 C1165.9,625.5 1166.0,628.3 1166.0,631.2 C1166.0,634.1 1166.0,636.9 1166.0,639.8 C1166.0,642.5 1166.0,645.2 1166.0,648.0 C1166.1,650.7 1166.1,653.3 1166.1,656.0 C1166.1,658.7 1166.1,661.3 1166.1,664.0 C1166.1,666.7 1166.1,669.3 1166.1,672.0 C1166.1,674.7 1166.1,677.3 1166.1,680.0 C1166.1,682.7 1166.1,685.3 1166.1,688.0 C1166.1,690.7 1166.0,693.3 1166.0,696.0 C1166.0,698.7 1166.1,701.3 1166.0,704.0 C1166.0,706.7 1166.1,709.4 1165.9,712.1 C1165.8,714.9 1165.6,717.6 1165.2,720.3 C1164.8,723.0 1164.2,725.7 1163.4,728.3 C1162.5,730.9 1161.4,733.6 1160.1,736.1 C1158.7,738.6 1157.1,741.0 1155.4,743.4 C1153.7,745.7 1151.8,747.8 1149.9,750.0 C1148.1,752.0 1146.1,754.1 1144.1,756.0 C1142.2,758.0 1140.2,759.9 1138.1,761.7 C1136.0,763.5 1133.8,765.2 1131.6,766.9 C1129.3,768.6 1127.0,770.2 1124.7,771.8 C1122.3,773.5 1119.9,775.1 1117.5,776.7 C1115.1,778.3 1112.6,779.9 1110.1,781.4 C1107.7,782.9 1105.3,784.3 1102.8,785.7 C1100.4,787.1 1097.9,788.4 1095.5,789.7 C1093.1,791.0 1090.6,792.2 1088.2,793.4 C1085.7,794.6 1083.3,795.8 1080.9,796.9 C1078.4,798.1 1076.0,799.2 1073.6,800.3 C1071.1,801.4 1068.6,802.5 1066.1,803.6 C1063.6,804.7 1061.0,805.9 1058.5,807.0 C1055.9,808.1 1053.3,809.2 1050.7,810.3 C1048.2,811.4 1045.6,812.5 1043.0,813.6 C1040.5,814.6 1037.9,815.6 1035.3,816.6 C1032.8,817.7 1030.2,818.6 1027.6,819.6 C1025.1,820.6 1022.5,821.5 1019.9,822.5 C1017.3,823.4 1014.7,824.3 1012.1,825.2 C1009.4,826.1 1006.8,826.9 1004.1,827.7 C1001.5,828.6 998.8,829.4 996.2,830.2 C993.5,831.0 990.9,831.8 988.2,832.6 C985.6,833.5 982.9,834.3 980.3,835.1 C977.7,835.9 975.1,836.7 972.5,837.6 C969.9,838.4 967.4,839.2 964.8,840.1 C962.2,840.9 959.6,841.8 957.1,842.6 C954.5,843.5 951.9,844.3 949.4,845.1 C946.8,846.0 944.2,846.8 941.7,847.7 C939.1,848.5 936.5,849.3 933.9,850.2 C931.3,851.0 928.8,851.8 926.2,852.6 C923.6,853.5 920.9,854.3 918.3,855.1 C915.7,855.9 913.1,856.7 910.5,857.5 C907.9,858.4 905.3,859.2 902.6,860.0 C900.0,860.8 897.4,861.6 894.8,862.4 C892.2,863.1 889.5,863.9 886.9,864.7 C884.3,865.4 881.7,866.2 879.1,866.9 C876.5,867.7 873.8,868.4 871.2,869.1 C868.6,869.9 866.0,870.6 863.4,871.3 C860.8,872.0 858.2,872.7 855.6,873.4 C852.9,874.1 850.3,874.8 847.7,875.4 C845.1,876.1 842.5,876.8 839.9,877.5 C837.3,878.1 834.6,878.8 832.0,879.5 C829.4,880.1 826.8,880.7 824.1,881.4 C821.5,882.0 818.9,882.6 816.3,883.1 C813.7,883.7 811.1,884.3 808.4,884.8 C805.8,885.3 803.2,885.8 800.6,886.4 C798.0,886.9 795.3,887.4 792.7,887.9 C790.0,888.4 787.3,888.9 784.6,889.4 C781.9,889.9 779.1,890.4 776.4,890.9 C773.6,891.3 770.8,891.8 768.0,892.3 C765.2,892.8 762.5,893.2 759.7,893.7 C757.0,894.2 754.2,894.7 751.5,895.1 C748.8,895.6 746.2,896.1 743.5,896.5 C740.9,897.0 738.3,897.5 735.6,897.9 C733.7,898.3 731.7,898.6 729.7,899.0"/>
<path d="M646.1,434.4 C648.9,435.3 651.6,436.1 654.4,437.0 C657.1,437.8 659.9,438.7 662.6,439.6 C665.3,440.5 668.0,441.4 670.6,442.4 C673.2,443.4 675.8,444.4 678.4,445.5 C681.0,446.5 683.5,447.6 686.1,448.6 C688.6,449.7 691.2,450.7 693.8,451.7 C696.3,452.8 698.9,453.8 701.5,454.8 C704.1,455.8 706.7,456.8 709.2,457.8 C711.8,458.9 714.4,460.0 716.9,461.1 C719.5,462.3 722.1,463.5 724.7,464.7 C727.3,465.9 729.8,467.2 732.4,468.5 C734.9,469.8 737.4,471.1 739.9,472.5 C742.4,473.8 744.8,475.1 747.3,476.5 C749.7,477.8 752.1,479.1 754.5,480.5 C756.8,481.9 759.2,483.2 761.6,484.6 C764.0,486.0 766.4,487.4 768.8,488.9 C771.3,490.3 773.7,491.8 776.2,493.2 C778.6,494.7 781.0,496.2 783.4,497.7 C785.8,499.1 788.1,500.6 790.4,502.1 C792.7,503.6 795.0,505.1 797.3,506.6 C799.6,508.1 801.9,509.7 804.2,511.3 C806.5,513.0 808.9,514.6 811.1,516.4 C813.3,518.2 815.5,520.1 817.5,522.1 C819.5,524.0 821.4,526.1 823.3,528.2 C825.2,530.3 827.0,532.5 828.8,534.6 C830.6,536.8 832.4,538.9 834.1,541.1 C835.8,543.2 837.5,545.4 839.1,547.6 C840.7,549.9 842.3,552.2 843.7,554.5 C845.2,556.9 846.6,559.4 847.9,561.9 C849.3,564.4 850.5,567.0 851.7,569.6 C852.9,572.2 854.0,574.9 855.0,577.6 C856.0,580.4 856.9,583.2 857.7,586.0 C858.4,588.7 859.1,591.5 859.6,594.3 C860.2,597.1 860.6,599.9 860.9,602.7 C861.3,605.4 861.6,608.2 861.8,610.9 C862.1,613.7 862.2,616.4 862.4,619.1 C862.5,621.9 862.6,624.6 862.6,627.3 C862.7,630.1 862.6,632.8 862.6,635.5 C862.6,638.3 862.6,641.0 862.5,643.8 C862.5,646.5 862.4,649.2 862.4,652.0 C862.4,654.7 862.3,657.5 862.3,660.2 C862.3,662.9 862.3,665.7 862.3,668.4 C862.3,671.1 862.3,673.8 862.3,676.6 C862.3,679.3 862.4,682.0 862.3,684.8 C862.3,687.5 862.3,690.2 862.3,692.9 C862.2,695.7 862.2,698.4 862.1,701.1 C862.0,703.8 861.9,706.6 861.8,709.3 C861.7,712.1 861.5,714.8 861.3,717.6 C861.1,720.4 860.8,723.2 860.4,726.0 C860.1,728.8 859.6,731.7 859.0,734.5 C858.4,737.3 857.7,740.1 857.0,742.9 C856.2,745.6 855.3,748.3 854.4,751.0 C853.4,753.7 852.4,756.3 851.3,758.9 C850.2,761.4 849.0,764.0 847.7,766.5 C846.5,769.0 845.3,771.5 844.0,774.0 C842.7,776.4 841.4,778.9 840.0,781.3 C838.6,783.6 837.2,786.0 835.8,788.3 C834.4,790.6 833.0,792.9 831.5,795.2 C830.1,797.5 828.6,799.8 827.1,802.0 C825.6,804.2 824.1,806.4 822.5,808.6 C821.0,810.7 819.3,812.8 817.6,814.9 C815.9,817.0 814.1,819.0 812.2,820.9 C810.2,822.9 808.2,824.8 806.2,826.7 C804.1,828.6 802.0,830.4 799.9,832.3 C797.8,834.1 795.7,835.9 793.6,837.7 C791.6,839.5 789.5,841.3 787.4,843.0 C785.4,844.8 783.3,846.6 781.2,848.3 C779.1,850.0 777.0,851.7 774.9,853.4 C772.8,855.1 770.6,856.7 768.4,858.4 C766.2,860.0 764.0,861.5 761.8,863.1 C759.6,864.7 757.3,866.2 755.1,867.7 C752.9,869.3 750.6,870.8 748.4,872.3 C746.1,873.9 743.9,875.4 741.7,876.9 C739.4,878.4 737.2,879.9 734.9,881.4 C733.3,882.5 731.6,883.7 729.9,884.8"/>
<path d="M607.4,449.3 C607.2,452.0 607.0,454.8 606.8,457.5 C606.6,460.3 606.5,463.0 606.3,465.7 C606.1,468.5 605.9,471.2 605.7,474.0 C605.5,476.7 605.3,479.5 605.2,482.2 C605.0,484.9 604.8,487.7 604.6,490.4 C604.4,493.2 604.2,495.9 604.0,498.7 C603.8,501.4 603.6,504.1 603.5,506.9 C603.3,509.6 603.1,512.3 602.9,515.1 C602.7,517.8 602.5,520.5 602.4,523.2 C602.2,525.9 602.0,528.6 601.8,531.3 C601.7,534.0 601.5,536.7 601.3,539.4 C601.2,542.2 601.0,544.9 600.8,547.6 C600.7,550.3 600.5,553.0 600.3,555.7 C600.1,558.4 600.0,561.1 599.8,563.8 C599.6,566.5 599.4,569.2 599.2,571.9 C599.1,574.6 598.9,577.4 598.7,580.1 C598.5,582.8 598.3,585.5 598.1,588.1 C597.8,590.8 597.6,593.5 597.4,596.2 C597.2,598.8 596.9,601.5 596.7,604.2 C596.5,606.8 596.2,609.5 595.9,612.1 C595.7,614.8 595.4,617.5 595.2,620.1 C594.9,622.8 594.6,625.4 594.4,628.1 C594.1,630.7 593.9,633.4 593.6,636.1 C593.4,638.7 593.1,641.4 592.9,644.0 C592.7,646.7 592.4,649.4 592.2,652.0 C592.0,654.7 591.8,657.4 591.6,660.1 C591.4,662.9 591.2,665.6 591.1,668.4 C590.9,671.2 590.7,674.0 590.5,676.7 C590.4,679.5 590.2,682.3 590.0,685.1 C590.0,686.5 589.9,687.9 589.8,689.3"/>
<path d="M602.5,449.3 C601.8,451.9 601.1,454.5 600.3,457.2 C599.6,459.8 598.9,462.4 598.2,465.0 C597.4,467.6 596.7,470.3 596.0,472.9 C595.3,475.5 594.6,478.1 593.8,480.7 C593.1,483.3 592.4,486.0 591.7,488.6 C590.9,491.2 590.2,493.8 589.5,496.4 C588.8,499.0 588.1,501.7 587.3,504.3 C586.6,506.9 585.9,509.5 585.2,512.1 C584.4,514.7 583.7,517.4 583.0,520.0 C582.3,522.6 581.5,525.2 580.8,527.8 C580.1,530.4 579.4,532.9 578.6,535.5 C577.9,538.1 577.2,540.7 576.4,543.3 C575.7,545.9 575.0,548.5 574.2,551.1 C573.5,553.7 572.8,556.3 572.0,558.9 C571.3,561.4 570.6,564.0 569.9,566.6 C569.2,569.2 568.4,571.8 567.7,574.4 C567.0,577.0 566.3,579.6 565.6,582.2 C564.9,584.8 564.2,587.4 563.5,590.0 C562.8,592.6 562.2,595.3 561.5,597.9 C560.8,600.5 560.1,603.1 559.5,605.8 C558.8,608.4 558.2,611.0 557.5,613.6 C556.9,616.3 556.2,618.9 555.6,621.5 C554.9,624.2 554.3,626.8 553.7,629.4 C553.0,632.1 552.4,634.7 551.7,637.3 C551.1,640.0 550.5,642.6 549.8,645.2 C549.2,647.9 548.6,650.5 547.9,653.2 C547.3,655.8 546.6,658.4 546.0,661.1 C545.3,663.7 544.7,666.3 544.0,668.9 C543.4,671.6 542.7,674.2 542.1,676.8 C541.4,679.5 540.8,682.1 540.1,684.7 C539.4,687.4 538.8,690.0 538.1,692.6 C537.5,695.2 536.8,697.9 536.1,700.5 C535.5,703.1 534.8,705.7 534.2,708.4 C533.5,711.0 532.9,713.6 532.2,716.3 C531.6,718.9 530.9,721.5 530.3,724.1 C529.6,726.8 529.0,729.4 528.4,732.0 C527.7,734.7 527.1,737.3 526.5,740.0 C525.9,742.6 525.2,745.3 524.6,748.0 C524.0,750.7 523.4,753.4 522.8,756.1 C522.2,758.8 521.6,761.6 521.0,764.3 C520.4,767.0 519.8,769.7 519.2,772.5 C518.6,775.2 518.0,777.9 517.4,780.6 C517.1,782.0 516.8,783.3 516.5,784.7"/>
<path d="M480.7,353.2 C481.5,355.8 482.2,358.4 483.0,361.0 C483.7,363.5 484.5,366.1 485.3,368.7 C486.0,371.3 486.8,373.9 487.6,376.4 C488.3,379.0 489.1,381.6 489.8,384.2 C490.6,386.8 491.4,389.4 492.1,391.9 C492.9,394.5 493.6,397.1 494.4,399.7 C495.2,402.3 495.9,404.8 496.7,407.4 C497.5,410.0 498.2,412.6 499.0,415.2 C499.7,417.7 500.5,420.3 501.3,422.9 C502.0,425.5 502.8,428.1 503.5,430.7 C504.3,433.2 505.1,435.8 505.8,438.4 C506.6,441.0 507.4,443.6 508.1,446.1 C508.9,448.7 509.6,451.3 510.4,453.9 C511.2,456.4 511.9,459.0 512.7,461.6 C513.4,464.1 514.2,466.7 515.0,469.2 C515.7,471.8 516.5,474.4 517.3,476.9 C518.0,479.5 518.8,482.0 519.5,484.6 C520.3,487.1 521.1,489.7 521.8,492.2 C522.6,494.8 523.4,497.4 524.1,499.9 C524.9,502.5 525.6,505.0 526.4,507.6 C527.2,510.1 527.9,512.7 528.7,515.2 C529.5,517.8 530.2,520.4 531.0,522.9 C531.7,525.5 532.5,528.0 533.3,530.6 C534.0,533.1 534.8,535.7 535.6,538.2 C536.3,540.8 537.1,543.3 537.9,545.9 C538.6,548.5 539.4,551.0 540.1,553.6 C540.9,556.1 541.7,558.7 542.4,561.2 C543.2,563.8 544.0,566.3 544.7,568.9 C545.5,571.5 546.2,574.0 547.0,576.6 C547.8,579.1 548.5,581.7 549.3,584.3 C550.1,586.8 550.8,589.4 551.6,592.0 C552.3,594.6 553.1,597.1 553.9,599.7 C554.6,602.3 555.4,604.9 556.2,607.5 C556.9,610.1 557.7,612.7 558.5,615.3 C559.2,617.9 560.0,620.5 560.8,623.1 C561.5,625.7 562.3,628.3 563.1,630.9 C563.8,633.5 564.6,636.1 565.4,638.7 C566.1,641.3 566.9,643.9 567.7,646.5 C568.4,649.1 569.2,651.7 570.0,654.3 C570.7,656.8 571.5,659.4 572.2,662.0 C573.0,664.6 573.8,667.2 574.5,669.8 C575.3,672.4 576.1,675.0 576.8,677.6 C577.6,680.2 578.4,682.8 579.1,685.4 C579.5,686.7 579.9,688.0 580.3,689.3"/>
<path d="M452.6,353.2 C450.9,355.6 449.2,357.9 447.5,360.3 C445.9,362.7 444.2,365.0 442.6,367.4 C441.0,369.7 439.4,372.0 437.8,374.4 C436.3,376.7 434.8,379.0 433.3,381.3 C431.8,383.6 430.3,385.9 428.8,388.2 C427.3,390.5 425.8,392.7 424.3,395.0 C422.8,397.2 421.2,399.4 419.7,401.7 C418.2,404.0 416.7,406.2 415.2,408.5 C413.7,410.9 412.3,413.2 410.8,415.6 C409.4,418.0 408.0,420.5 406.6,422.9 C405.2,425.4 403.9,427.9 402.6,430.4 C401.2,433.0 400.0,435.6 398.7,438.2 C397.5,440.8 396.4,443.4 395.2,446.1 C394.1,448.7 393.1,451.4 392.1,454.0 C391.1,456.7 390.1,459.3 389.3,462.0 C388.4,464.7 387.7,467.4 387.0,470.1 C386.3,472.7 385.8,475.4 385.3,478.1 C384.8,480.8 384.4,483.5 384.1,486.2 C383.7,488.8 383.5,491.5 383.3,494.2 C383.1,496.8 382.9,499.5 382.9,502.2 C382.8,504.9 382.7,507.6 382.8,510.2 C382.8,513.0 382.8,515.7 382.9,518.4 C383.0,521.1 383.2,523.9 383.5,526.7 C383.8,529.5 384.2,532.3 384.7,535.1 C385.1,538.0 385.7,540.8 386.3,543.6 C386.9,546.4 387.6,549.1 388.2,551.8 C388.9,554.5 389.6,557.2 390.3,559.8 C391.0,562.5 391.7,565.1 392.5,567.7 C393.2,570.4 394.0,573.0 394.8,575.6 C395.6,578.2 396.4,580.8 397.2,583.4 C398.0,586.0 398.9,588.6 399.7,591.2 C400.6,593.8 401.4,596.4 402.3,598.9 C403.2,601.5 404.1,604.1 405.0,606.6 C405.9,609.2 406.9,611.7 407.8,614.3 C408.8,616.8 409.7,619.4 410.7,621.9 C411.7,624.4 412.7,627.0 413.7,629.5 C414.7,632.1 415.8,634.6 416.8,637.1 C417.9,639.6 419.0,642.2 420.1,644.7 C421.2,647.2 422.3,649.7 423.4,652.2 C424.5,654.7 425.7,657.2 426.8,659.7 C428.0,662.2 429.2,664.7 430.3,667.1 C431.5,669.6 432.7,672.1 433.9,674.6 C435.1,677.0 436.4,679.5 437.6,682.0 C438.9,684.5 440.1,686.9 441.4,689.4 C442.7,691.9 444.0,694.3 445.3,696.8 C446.6,699.2 447.9,701.7 449.2,704.1 C450.5,706.6 451.8,709.0 453.1,711.4 C454.4,713.9 455.7,716.3 457.1,718.7 C458.4,721.2 459.7,723.6 461.0,726.0 C462.3,728.4 463.6,730.9 464.9,733.3 C466.2,735.7 467.5,738.1 468.8,740.5 C470.2,743.0 471.5,745.4 472.9,747.8 C474.2,750.1 475.6,752.5 477.0,754.9 C478.5,757.3 479.9,759.6 481.4,762.0 C482.9,764.3 484.4,766.7 485.9,769.0 C487.5,771.3 489.0,773.6 490.6,776.0 C492.1,778.3 493.7,780.6 495.2,783.0 C495.6,783.5 496.0,784.1 496.4,784.7"/>
<path d="M437.6,353.2 C435.2,354.8 432.8,356.3 430.5,358.0 C428.2,359.7 425.9,361.4 423.8,363.2 C421.7,365.0 419.7,367.0 417.7,368.9 C415.7,370.9 413.8,373.0 411.9,375.1 C410.0,377.3 408.1,379.5 406.3,381.7 C404.5,383.9 402.8,386.1 401.2,388.4 C399.6,390.6 398.1,392.8 396.6,395.1 C395.1,397.4 393.7,399.7 392.3,402.1 C390.9,404.5 389.5,407.0 388.1,409.5 C386.7,412.0 385.3,414.5 383.9,417.1 C382.5,419.6 381.1,422.1 379.7,424.7 C378.4,427.1 377.0,429.6 375.8,432.0 C374.5,434.4 373.3,436.8 372.1,439.2 C370.9,441.7 369.7,444.1 368.5,446.5 C367.4,449.0 366.2,451.5 365.1,454.0 C363.9,456.6 362.8,459.2 361.7,461.7 C360.6,464.3 359.5,466.9 358.4,469.5 C357.4,472.1 356.4,474.7 355.3,477.3 C354.3,479.8 353.4,482.3 352.4,484.9 C351.4,487.4 350.5,490.0 349.6,492.5 C348.6,495.1 347.7,497.7 346.8,500.3 C345.9,503.0 345.0,505.7 344.1,508.4 C343.2,511.1 342.3,513.8 341.5,516.6 C340.6,519.3 339.8,522.1 339.0,524.9 C338.2,527.6 337.4,530.4 336.7,533.2 C335.9,536.0 335.2,538.8 334.5,541.6 C333.8,544.4 333.2,547.1 332.5,549.9 C331.9,552.6 331.4,555.3 330.8,558.1 C330.3,560.8 329.7,563.6 329.2,566.4 C328.7,569.2 328.2,572.0 327.7,574.8 C327.3,577.6 326.8,580.4 326.5,583.3 C326.1,586.0 325.9,588.8 325.6,591.5 C325.4,594.2 325.2,596.9 325.1,599.6 C325.0,602.3 324.9,605.0 324.9,607.7 C324.8,610.4 324.9,613.0 324.9,615.7 C325.0,618.4 325.1,621.1 325.2,623.8 C325.4,626.6 325.6,629.3 325.8,632.0 C326.0,634.7 326.3,637.4 326.6,640.1 C326.9,642.8 327.3,645.5 327.7,648.2 C328.1,650.9 328.5,653.5 328.9,656.2 C329.4,658.9 329.9,661.5 330.4,664.2 C330.9,666.8 331.5,669.5 332.1,672.1 C332.7,674.8 333.3,677.4 333.9,680.1 C334.6,682.7 335.3,685.4 335.9,688.1 C336.6,690.8 337.4,693.5 338.1,696.1 C338.9,698.8 339.7,701.5 340.6,704.1 C341.5,706.7 342.5,709.3 343.5,711.9 C344.6,714.5 345.7,717.0 346.9,719.6 C348.1,722.1 349.4,724.6 350.7,727.1 C352.0,729.6 353.3,732.1 354.7,734.5 C356.0,737.0 357.3,739.4 358.7,741.8 C360.0,744.1 361.4,746.4 362.8,748.8 C364.1,751.1 365.5,753.4 366.9,755.6 C368.3,757.9 369.8,760.2 371.2,762.4 C372.6,764.7 374.1,767.0 375.6,769.2 C377.0,771.5 378.5,773.8 380.0,776.1 C381.5,778.4 383.1,780.8 384.6,783.1 C386.2,785.4 387.7,787.7 389.3,790.0 C390.9,792.2 392.5,794.5 394.1,796.8 C395.7,799.0 397.3,801.3 398.9,803.5 C400.5,805.7 402.1,807.9 403.8,810.0 C405.4,812.2 407.0,814.4 408.6,816.5 C410.2,818.6 411.9,820.7 413.6,822.8 C415.4,824.8 417.2,826.8 419.1,828.7 C421.0,830.6 423.0,832.5 425.1,834.2 C427.2,836.0 429.4,837.8 431.7,839.4 C433.9,841.0 436.2,842.6 438.6,844.0 C440.9,845.5 443.4,846.8 445.8,848.1 C448.3,849.4 450.8,850.5 453.3,851.6 C455.9,852.7 458.5,853.7 461.1,854.7 C463.7,855.7 466.3,856.6 468.9,857.6 C471.5,858.5 474.1,859.4 476.7,860.3 C479.3,861.2 481.9,862.1 484.6,862.9 C487.2,863.7 489.8,864.5 492.5,865.3 C495.1,866.1 497.8,866.8 500.4,867.6 C503.1,868.3 505.7,869.0 508.4,869.7 C511.0,870.5 513.7,871.2 516.3,871.9 C519.0,872.5 521.6,873.2 524.2,873.9 C526.9,874.5 529.5,875.2 532.2,875.8 C534.8,876.5 537.5,877.1 540.1,877.7 C542.8,878.3 545.4,878.9 548.1,879.5 C550.7,880.1 553.4,880.6 556.0,881.2 C558.7,881.8 561.4,882.3 564.0,882.9 C566.7,883.4 569.3,883.9 572.0,884.5 C574.7,885.0 577.3,885.5 580.0,886.0 C582.7,886.5 585.3,887.0 588.0,887.5 C590.7,888.0 593.3,888.5 596.0,889.0 C598.7,889.5 601.3,890.0 604.0,890.4 C606.7,890.9 609.4,891.4 612.0,891.8 C614.7,892.3 617.4,892.8 620.1,893.2 C622.8,893.7 625.4,894.1 628.1,894.6 C630.8,895.0 633.5,895.5 636.2,895.9 C638.8,896.4 641.5,896.8 644.2,897.3 C646.9,897.7 649.6,898.1 652.3,898.6 C654.3,898.9 656.3,899.3 658.3,899.6"/>
<path d="M453.1,545.2 C454.8,547.3 456.5,549.4 458.2,551.6 C459.9,553.7 461.6,555.8 463.3,557.9 C465.0,560.0 466.7,562.1 468.4,564.3 C470.1,566.4 471.7,568.5 473.4,570.6 C475.1,572.7 476.8,574.8 478.5,577.0 C480.2,579.1 481.9,581.2 483.6,583.3 C485.3,585.4 487.0,587.5 488.7,589.7 C490.4,591.8 492.1,593.9 493.8,596.0 C495.4,598.1 497.1,600.2 498.8,602.4 C500.5,604.5 502.2,606.6 503.9,608.7 C505.7,610.9 507.4,613.0 509.1,615.1 C510.8,617.3 512.5,619.4 514.3,621.5 C516.0,623.7 517.7,625.8 519.4,627.9 C521.2,630.1 522.9,632.2 524.6,634.3 C526.4,636.4 528.1,638.6 529.8,640.7 C531.6,642.9 533.3,645.0 535.0,647.1 C536.7,649.3 538.4,651.4 540.2,653.6 C541.9,655.7 543.6,657.9 545.3,660.0 C547.0,662.2 548.7,664.3 550.4,666.5 C552.1,668.7 553.8,670.8 555.5,673.0 C557.2,675.2 558.9,677.3 560.6,679.5 C562.3,681.7 564.0,683.9 565.7,686.0 C566.6,687.1 567.4,688.2 568.3,689.3"/>
<path d="M440.1,545.2 C440.8,547.8 441.5,550.4 442.2,552.9 C443.0,555.5 443.7,558.1 444.4,560.7 C445.1,563.2 445.8,565.8 446.5,568.4 C447.2,571.0 448.0,573.5 448.7,576.1 C449.4,578.7 450.1,581.3 450.8,583.8 C451.5,586.4 452.2,589.0 452.9,591.6 C453.7,594.1 454.4,596.7 455.1,599.3 C455.8,601.9 456.5,604.5 457.2,607.0 C457.9,609.6 458.6,612.2 459.4,614.8 C460.1,617.3 460.8,619.9 461.5,622.5 C462.2,625.1 462.9,627.6 463.6,630.2 C464.3,632.8 465.0,635.4 465.8,637.9 C466.5,640.5 467.2,643.1 467.9,645.7 C468.6,648.3 469.3,650.8 470.0,653.4 C470.7,656.1 471.4,658.7 472.1,661.3 C472.8,663.9 473.5,666.5 474.2,669.1 C474.9,671.8 475.6,674.4 476.3,677.0 C477.0,679.7 477.7,682.3 478.4,684.9 C479.1,687.5 479.8,690.2 480.5,692.8 C481.2,695.4 481.9,698.0 482.6,700.7 C483.3,703.3 484.0,705.9 484.7,708.6 C485.4,711.2 486.1,713.8 486.8,716.4 C487.5,719.1 488.2,721.7 488.9,724.3 C489.7,726.9 490.4,729.5 491.1,732.2 C491.8,734.8 492.6,737.4 493.3,740.0 C494.1,742.6 494.8,745.2 495.6,747.8 C496.3,750.4 497.1,753.0 497.8,755.6 C498.6,758.2 499.4,760.8 500.1,763.4 C500.9,766.0 501.7,768.6 502.5,771.1 C503.2,773.7 504.0,776.3 504.8,778.9 C505.3,780.8 505.9,782.8 506.5,784.7"/>
<path d="M427.3,545.5 C426.7,548.2 426.1,550.9 425.5,553.6 C424.9,556.3 424.3,559.0 423.7,561.7 C423.1,564.4 422.5,567.1 421.9,569.8 C421.3,572.5 420.7,575.2 420.2,577.9 C419.7,580.6 419.1,583.3 418.7,586.0 C418.2,588.7 417.8,591.4 417.4,594.1 C417.0,596.7 416.6,599.4 416.3,602.1 C416.0,604.8 415.7,607.4 415.4,610.1 C415.1,612.8 414.8,615.4 414.6,618.1 C414.3,620.8 414.1,623.5 413.9,626.2 C413.7,628.8 413.5,631.5 413.3,634.2 C413.1,636.9 413.0,639.6 412.8,642.3 C412.6,645.1 412.5,647.9 412.3,650.6 C412.2,653.4 412.0,656.2 411.9,659.0 C411.8,661.8 411.7,664.6 411.7,667.4 C411.6,670.2 411.6,673.0 411.5,675.8 C411.5,678.5 411.5,681.2 411.6,684.0 C411.6,686.6 411.7,689.3 411.8,692.0 C411.9,694.7 412.0,697.3 412.1,700.0 C412.2,702.7 412.4,705.4 412.6,708.0 C412.8,710.7 413.0,713.4 413.2,716.2 C413.4,718.9 413.7,721.6 414.0,724.3 C414.3,727.0 414.6,729.8 415.0,732.5 C415.3,735.2 415.8,737.9 416.2,740.6 C416.7,743.4 417.3,746.1 417.8,748.8 C418.4,751.5 419.1,754.3 419.8,757.0 C420.5,759.7 421.2,762.5 422.0,765.2 C422.8,767.8 423.7,770.5 424.7,773.2 C425.6,775.8 426.7,778.4 427.8,781.0 C428.9,783.6 430.0,786.1 431.2,788.6 C432.4,791.2 433.7,793.6 435.1,796.1 C436.4,798.5 437.8,800.9 439.2,803.3 C440.7,805.6 442.1,807.9 443.7,810.2 C445.2,812.4 446.7,814.6 448.3,816.8 C450.0,818.9 451.6,821.0 453.4,823.0 C455.2,825.0 457.1,826.9 459.1,828.7 C461.2,830.6 463.4,832.3 465.6,833.9 C468.0,835.5 470.4,837.0 472.9,838.5 C475.3,840.0 477.8,841.3 480.3,842.7 C482.8,844.0 485.3,845.3 487.8,846.5 C490.2,847.7 492.7,848.8 495.2,850.0 C497.7,851.1 500.3,852.2 502.8,853.3 C505.3,854.4 507.9,855.4 510.4,856.5 C513.0,857.6 515.5,858.6 518.1,859.7 C520.6,860.7 523.2,861.7 525.8,862.7 C528.3,863.7 530.9,864.7 533.4,865.7 C536.0,866.7 538.5,867.7 541.1,868.7 C543.6,869.7 546.2,870.6 548.7,871.6 C551.3,872.6 553.8,873.5 556.4,874.4 C559.0,875.3 561.5,876.2 564.1,877.1 C566.7,878.0 569.3,878.8 572.0,879.6 C574.6,880.5 577.3,881.3 579.9,882.0 C582.6,882.8 585.3,883.6 587.9,884.3 C590.6,885.0 593.3,885.8 596.0,886.4 C598.6,887.1 601.3,887.8 604.0,888.4 C606.6,889.0 609.3,889.6 612.0,890.2 C614.6,890.8 617.3,891.3 620.0,891.8 C622.7,892.4 625.4,892.9 628.0,893.4 C630.7,893.9 633.4,894.4 636.1,894.9 C638.8,895.4 641.5,895.9 644.2,896.4 C646.9,896.9 649.6,897.4 652.3,897.9 C654.3,898.3 656.3,898.7 658.3,899.1"/>
<path d="M625.0,689.3 L687.6,641.4"/>
<path d="M670.1,641.4 L610.0,689.3"/>
<path d="M691.0,641.4 C689.6,643.8 688.2,646.3 686.8,648.7 C685.4,651.2 684.0,653.6 682.6,656.1 C681.2,658.5 679.8,660.9 678.4,663.4 C677.1,665.8 675.7,668.2 674.3,670.6 C673.0,673.0 671.6,675.4 670.2,677.8 C668.9,680.2 667.5,682.6 666.1,685.0 C664.7,687.4 663.4,689.9 662.0,692.3 C660.6,694.7 659.2,697.2 657.7,699.6 C656.3,702.0 654.9,704.3 653.4,706.7 C651.9,709.0 650.4,711.3 648.8,713.6 C647.3,715.8 645.7,718.0 644.1,720.2 C642.5,722.4 640.8,724.5 639.1,726.6 C637.4,728.7 635.6,730.7 633.8,732.7 C632.0,734.7 630.1,736.6 628.2,738.5 C626.2,740.4 624.3,742.3 622.2,744.1 C620.2,745.9 618.1,747.6 616.0,749.3 C613.8,750.9 611.7,752.5 609.4,753.9 C607.2,755.4 604.9,756.8 602.7,758.1 C600.4,759.5 598.0,760.8 595.7,762.1 C593.4,763.4 591.0,764.7 588.7,766.0 C586.4,767.4 584.1,768.7 581.7,770.0 C579.4,771.4 577.0,772.7 574.7,774.0 C572.4,775.4 570.0,776.7 567.7,778.0 C565.3,779.4 563.0,780.7 560.6,782.0 C558.8,783.0 557.1,784.0 555.3,785.0"/>
<path d="M555.3,795.2 C557.7,794.0 560.1,792.8 562.5,791.6 C564.9,790.4 567.3,789.2 569.7,788.0 C572.0,786.8 574.4,785.6 576.8,784.3 C579.2,783.0 581.6,781.7 584.0,780.5 C586.5,779.1 589.0,777.8 591.5,776.5 C594.2,775.1 596.8,773.8 599.4,772.4 C601.9,771.0 604.4,769.6 606.9,768.1 C609.3,766.6 611.6,765.0 614.0,763.4 C616.4,761.8 618.8,760.1 621.2,758.5 C623.6,756.9 625.9,755.2 628.3,753.6 C630.5,752.0 632.8,750.5 635.1,748.9 C637.3,747.3 639.5,745.8 641.7,744.2 C643.9,742.6 646.0,741.0 648.1,739.2 C650.2,737.5 652.3,735.8 654.3,733.9 C656.3,732.1 658.3,730.2 660.2,728.2 C662.2,726.2 664.1,724.1 666.0,722.0 C667.9,719.8 669.7,717.6 671.5,715.4 C673.3,713.1 675.0,710.8 676.7,708.4 C678.4,706.1 680.0,703.7 681.6,701.3 C683.2,698.9 684.7,696.4 686.1,693.9 C687.6,691.5 689.0,689.0 690.3,686.6 C691.6,684.1 692.9,681.6 694.1,679.1 C695.3,676.6 696.4,674.1 697.5,671.6 C698.5,669.0 699.5,666.5 700.4,663.9 C701.4,661.2 702.3,658.6 703.2,655.9 C704.1,653.1 705.0,650.4 706.0,647.6 C706.6,645.6 707.3,643.5 708.0,641.4"/>
<path d="M704.0,641.4 C703.7,644.1 703.4,646.7 703.1,649.4 C702.8,652.1 702.5,654.8 702.2,657.4 C701.9,660.1 701.6,662.8 701.4,665.5 C701.1,668.1 700.8,670.8 700.5,673.5 C700.2,676.2 700.0,678.9 699.7,681.6 C699.4,684.3 699.2,687.0 698.9,689.8 C698.7,692.5 698.4,695.3 698.2,698.1 C698.0,700.9 697.7,703.7 697.5,706.4 C697.3,709.2 697.1,712.0 696.8,714.8 C696.6,717.6 696.4,720.3 696.2,723.1 C696.0,725.9 695.7,728.7 695.5,731.5 C695.3,734.3 695.1,737.1 694.9,739.9 C694.7,742.7 694.6,745.4 694.4,748.2 C694.2,751.0 694.0,753.8 693.8,756.6 C693.7,759.4 693.5,762.2 693.3,764.9 C693.2,767.7 693.0,770.4 692.9,773.2 C692.7,775.9 692.6,778.6 692.4,781.4 C692.3,784.1 692.2,786.8 692.1,789.5 C692.0,792.3 691.8,795.0 691.7,797.7 C691.6,800.4 691.5,803.2 691.4,805.9 C691.3,808.6 691.3,811.3 691.2,814.0 C691.1,816.6 691.0,819.3 690.9,822.0 C690.8,824.7 690.8,827.3 690.7,830.0 C690.6,832.7 690.5,835.3 690.5,838.0 C690.4,840.7 690.4,843.4 690.3,846.0 C690.2,848.8 690.2,851.5 690.1,854.2 C690.1,857.0 690.0,859.8 690.0,862.6 C690.0,865.4 689.9,868.1 689.9,870.9 C689.8,873.7 689.8,876.5 689.7,879.3 C689.7,880.0 689.7,880.7 689.7,881.4"/>
<path d="M700.5,881.4 C700.8,878.7 701.0,875.9 701.3,873.2 C701.6,870.5 701.9,867.7 702.1,865.0 C702.4,862.3 702.7,859.6 703.0,856.8 C703.3,854.1 703.5,851.4 703.8,848.7 C704.1,845.9 704.4,843.2 704.6,840.5 C704.9,837.7 705.2,835.0 705.4,832.3 C705.7,829.6 705.9,826.8 706.1,824.1 C706.4,821.4 706.6,818.7 706.8,816.0 C707.0,813.4 707.3,810.7 707.5,808.0 C707.7,805.3 707.9,802.7 708.1,800.0 C708.3,797.3 708.4,794.7 708.6,792.0 C708.8,789.3 709.0,786.7 709.2,784.0 C709.3,781.3 709.5,778.6 709.7,776.0 C709.8,773.3 710.0,770.6 710.1,767.9 C710.3,765.3 710.4,762.6 710.6,759.9 C710.7,757.2 710.9,754.5 711.0,751.7 C711.1,749.0 711.2,746.3 711.3,743.5 C711.4,740.8 711.5,738.0 711.6,735.3 C711.7,732.5 711.8,729.8 711.9,727.0 C712.0,724.3 712.1,721.5 712.2,718.8 C712.3,716.0 712.3,713.3 712.4,710.5 C712.5,707.8 712.6,705.0 712.6,702.3 C712.7,699.6 712.8,696.8 712.8,694.1 C712.9,691.4 712.9,688.7 713.0,686.0 C713.0,683.3 713.1,680.6 713.1,677.9 C713.2,675.2 713.2,672.5 713.2,669.8 C713.3,667.1 713.3,664.4 713.3,661.7 C713.4,659.0 713.4,656.3 713.4,653.6 C713.5,650.9 713.5,648.2 713.5,645.5 C713.6,644.1 713.6,642.8 713.6,641.4"/>
<path d="M568.3,737.1 L531.5,784.7"/>
<path d="M600.4,737.1 L681.0,881.4"/>
<path d="M555.3,832.3 L658.1,885.9"/>
</g>
<g fill="#000" stroke="#000" stroke-width="1.33">
<polygon points="455.8,792.3 469.8,793.1 459.1,784.0"/>
<polygon points="383.9,522.8 397.5,519.3 384.5,514.0"/>
<polygon points="442.4,297.6 454.1,305.4 449.4,292.2"/>
<polygon points="664.1,42.1 676.7,35.8 662.9,33.3"/>
<polygon points="567.1,100.0 565.2,113.9 575.1,103.9"/>
<polygon points="597.3,132.6 584.0,137.0 597.3,141.4"/>
<polygon points="680.4,109.5 694.0,112.9 685.1,102.0"/>
<polygon points="708.7,100.4 713.9,113.4 717.6,99.8"/>
<polygon points="734.9,66.3 729.6,53.3 726.0,66.9"/>
<polygon points="822.6,199.5 832.8,209.1 830.4,195.3"/>
<polygon points="780.3,56.9 767.6,50.8 774.1,63.3"/>
<polygon points="802.7,204.2 816.0,208.8 808.1,197.2"/>
<polygon points="797.8,234.6 811.3,230.8 798.2,225.7"/>
<polygon points="608.7,387.3 611.6,401.0 617.5,388.3"/>
<polygon points="597.5,388.9 604.6,401.0 606.2,387.0"/>
<polygon points="628.7,387.5 624.9,401.0 636.1,392.5"/>
<polygon points="512.3,293.7 504.5,305.4 517.7,300.7"/>
<polygon points="521.4,312.5 509.7,320.2 523.7,321.1"/>
<polygon points="463.9,292.7 469.9,305.4 472.7,291.6"/>
<polygon points="417.9,485.5 425.6,497.3 426.5,483.3"/>
<polygon points="430.1,483.4 432.4,497.3 438.9,484.8"/>
<polygon points="477.5,367.1 475.2,353.2 468.7,365.7"/>
<polygon points="560.6,400.8 574.1,404.8 565.7,393.5"/>
<polygon points="523.2,354.1 509.7,350.2 518.1,361.4"/>
<polygon points="479.3,487.2 469.6,497.3 483.5,495.0"/>
<polygon points="564.4,459.7 574.1,449.5 560.2,451.8"/>
<polygon points="481.8,508.6 469.6,515.5 483.5,517.3"/>
<polygon points="383.7,516.0 397.7,514.4 385.6,507.3"/>
<polygon points="644.5,902.7 658.3,900.1 645.7,893.9"/>
<polygon points="470.9,779.4 483.9,784.7 476.6,772.7"/>
<polygon points="536.1,693.1 550.0,695.3 540.2,685.2"/>
<polygon points="714.2,579.0 715.9,592.9 722.9,580.7"/>
<polygon points="706.2,579.7 711.0,592.9 715.0,579.4"/>
<polygon points="687.1,583.3 697.3,592.9 694.9,579.1"/>
<polygon points="648.1,600.2 662.2,600.3 651.0,591.8"/>
<polygon points="749.0,581.1 741.9,593.2 754.9,587.7"/>
<polygon points="766.1,588.8 757.7,600.1 771.2,596.1"/>
<polygon points="767.8,590.5 757.7,600.3 771.6,598.5"/>
<polygon points="637.0,703.2 624.4,709.3 638.2,712.0"/>
<polygon points="637.3,701.2 624.4,706.8 638.1,710.1"/>
<polygon points="635.9,696.2 624.4,704.3 638.4,704.7"/>
<polygon points="742.9,899.1 729.7,904.0 743.2,907.9"/>
<polygon points="742.1,892.3 729.7,899.0 743.6,901.0"/>
<polygon points="738.5,873.7 729.9,884.8 743.4,881.0"/>
<polygon points="586.2,675.7 589.8,689.3 595.1,676.3"/>
<polygon points="515.0,770.7 516.5,784.7 523.7,772.6"/>
<polygon points="572.3,677.8 580.3,689.3 580.8,675.3"/>
<polygon points="485.3,776.0 496.4,784.7 492.8,771.1"/>
<polygon points="644.4,901.7 658.3,899.6 645.9,893.0"/>
<polygon points="556.6,681.6 568.3,689.3 563.6,676.1"/>
<polygon points="498.5,773.2 506.5,784.7 507.0,770.7"/>
<polygon points="644.4,900.8 658.3,899.1 646.1,892.1"/>
<polygon points="679.7,653.0 687.6,641.4 674.3,646.0"/>
<polygon points="617.7,677.5 610.0,689.3 623.2,684.5"/>
<polygon points="564.7,774.6 555.3,785.0 569.1,782.3"/>
<polygon points="708.0,655.5 708.0,641.4 699.6,652.7"/>
<polygon points="685.5,868.0 689.7,881.4 694.4,868.1"/>
<polygon points="717.8,654.8 713.6,641.4 709.0,654.7"/>
<polygon points="536.1,771.4 531.5,784.7 543.2,776.9"/>
<polygon points="670.6,871.9 681.0,881.4 678.4,867.6"/>
<polygon points="644.2,883.7 658.1,885.9 648.3,875.8"/>
</g>
<g>
<text transform="translate(656.0,33.3) scale(0.935,1)">4</text>
<text transform="translate(581.9,104.7) scale(0.935,1)">17</text>
<text transform="translate(602.4,148.6) scale(0.935,1)">17</text>
<text transform="translate(684.0,98.9) scale(0.935,1)">5</text>
<text transform="translate(720.6,97.8) scale(0.935,1)">6</text>
<text transform="translate(721.4,76.5) scale(0.935,1)">1</text>
<text transform="translate(833.0,192.4) scale(0.935,1)">31</text>
<text transform="translate(775.2,71.5) scale(0.935,1)">24</text>
<text transform="translate(805.8,194.6) scale(0.935,1)">6</text>
<text transform="translate(794.0,223.9) scale(0.935,1)">1</text>
<text transform="translate(449.0,288.9) scale(0.935,1)">40</text>
<text transform="translate(476.2,289.9) scale(0.935,1)">4</text>
<text transform="translate(523.5,303.5) scale(0.935,1)">5</text>
<text transform="translate(529.0,326.1) scale(0.935,1)">49</text>
<text transform="translate(607.9,384.2) scale(0.935,1)">1</text>
<text transform="translate(621.6,386.7) scale(0.935,1)">2</text>
<text transform="translate(640.9,393.7) scale(0.935,1)">1</text>
<text transform="translate(563.5,390.4) scale(0.935,1)">30</text>
<text transform="translate(521.5,369.1) scale(0.935,1)">130</text>
<text transform="translate(461.4,373.4) scale(0.935,1)">60</text>
<text transform="translate(428.3,481.5) scale(0.935,1)">4</text>
<text transform="translate(442.6,484.0) scale(0.935,1)">87</text>
<text transform="translate(490.2,498.5) scale(0.935,1)">27</text>
<text transform="translate(554.0,453.4) scale(0.935,1)">38</text>
<text transform="translate(489.7,523.5) scale(0.935,1)">5</text>
<text transform="translate(381.6,502.9) scale(0.935,1)">9</text>
<text transform="translate(376.6,511.7) scale(0.935,1)">6</text>
<text transform="translate(647.5,589.5) scale(0.935,1)">567</text>
<text transform="translate(696.4,576.4) scale(0.935,1)">69</text>
<text transform="translate(718.4,577.7) scale(0.935,1)">97</text>
<text transform="translate(727.2,579.4) scale(0.935,1)">5</text>
<text transform="translate(762.0,589.4) scale(0.935,1)">13</text>
<text transform="translate(778.6,602.1) scale(0.935,1)">14</text>
<text transform="translate(778.0,604.8) scale(0.935,1)">38</text>
<text transform="translate(537.8,682.7) scale(0.935,1)">12</text>
<text transform="translate(563.0,673.2) scale(0.935,1)">410</text>
<text transform="translate(582.6,673.2) scale(0.935,1)">117</text>
<text transform="translate(601.0,674.1) scale(0.935,1)">107</text>
<text transform="translate(629.8,686.9) scale(0.935,1)">73</text>
<text transform="translate(667.0,649.7) scale(0.935,1)">9</text>
<text transform="translate(693.8,658.6) scale(0.935,1)">6</text>
<text transform="translate(706.0,663.1) scale(0.935,1)">2</text>
<text transform="translate(645.1,707.4) scale(0.935,1)">26</text>
<text transform="translate(644.2,712.4) scale(0.935,1)">58</text>
<text transform="translate(644.2,719.0) scale(0.935,1)">29</text>
<text transform="translate(455.5,781.8) scale(0.935,1)">7</text>
<text transform="translate(475.2,770.3) scale(0.935,1)">1</text>
<text transform="translate(493.2,768.6) scale(0.935,1)">76</text>
<text transform="translate(510.2,768.6) scale(0.935,1)">123</text>
<text transform="translate(529.0,771.6) scale(0.935,1)">22</text>
<text transform="translate(549.0,779.1) scale(0.935,1)">11</text>
<text transform="translate(574.1,786.6) scale(0.935,1)">41</text>
<text transform="translate(645.0,872.4) scale(0.935,1)">43</text>
<text transform="translate(678.4,864.5) scale(0.935,1)">5</text>
<text transform="translate(698.0,865.6) scale(0.935,1)">52</text>
<text transform="translate(748.6,886.0) scale(0.935,1)">21</text>
<text transform="translate(749.0,905.7) scale(0.935,1)">7</text>
<text transform="translate(749.0,914.9) scale(0.935,1)">3</text>
<text transform="translate(640.0,889.4) scale(0.935,1)">25</text>
<text transform="translate(643.5,892.4) scale(0.935,1)">123</text>
<text transform="translate(639.0,893.4) scale(0.935,1)">42</text>
</g>
</svg></body></html>
